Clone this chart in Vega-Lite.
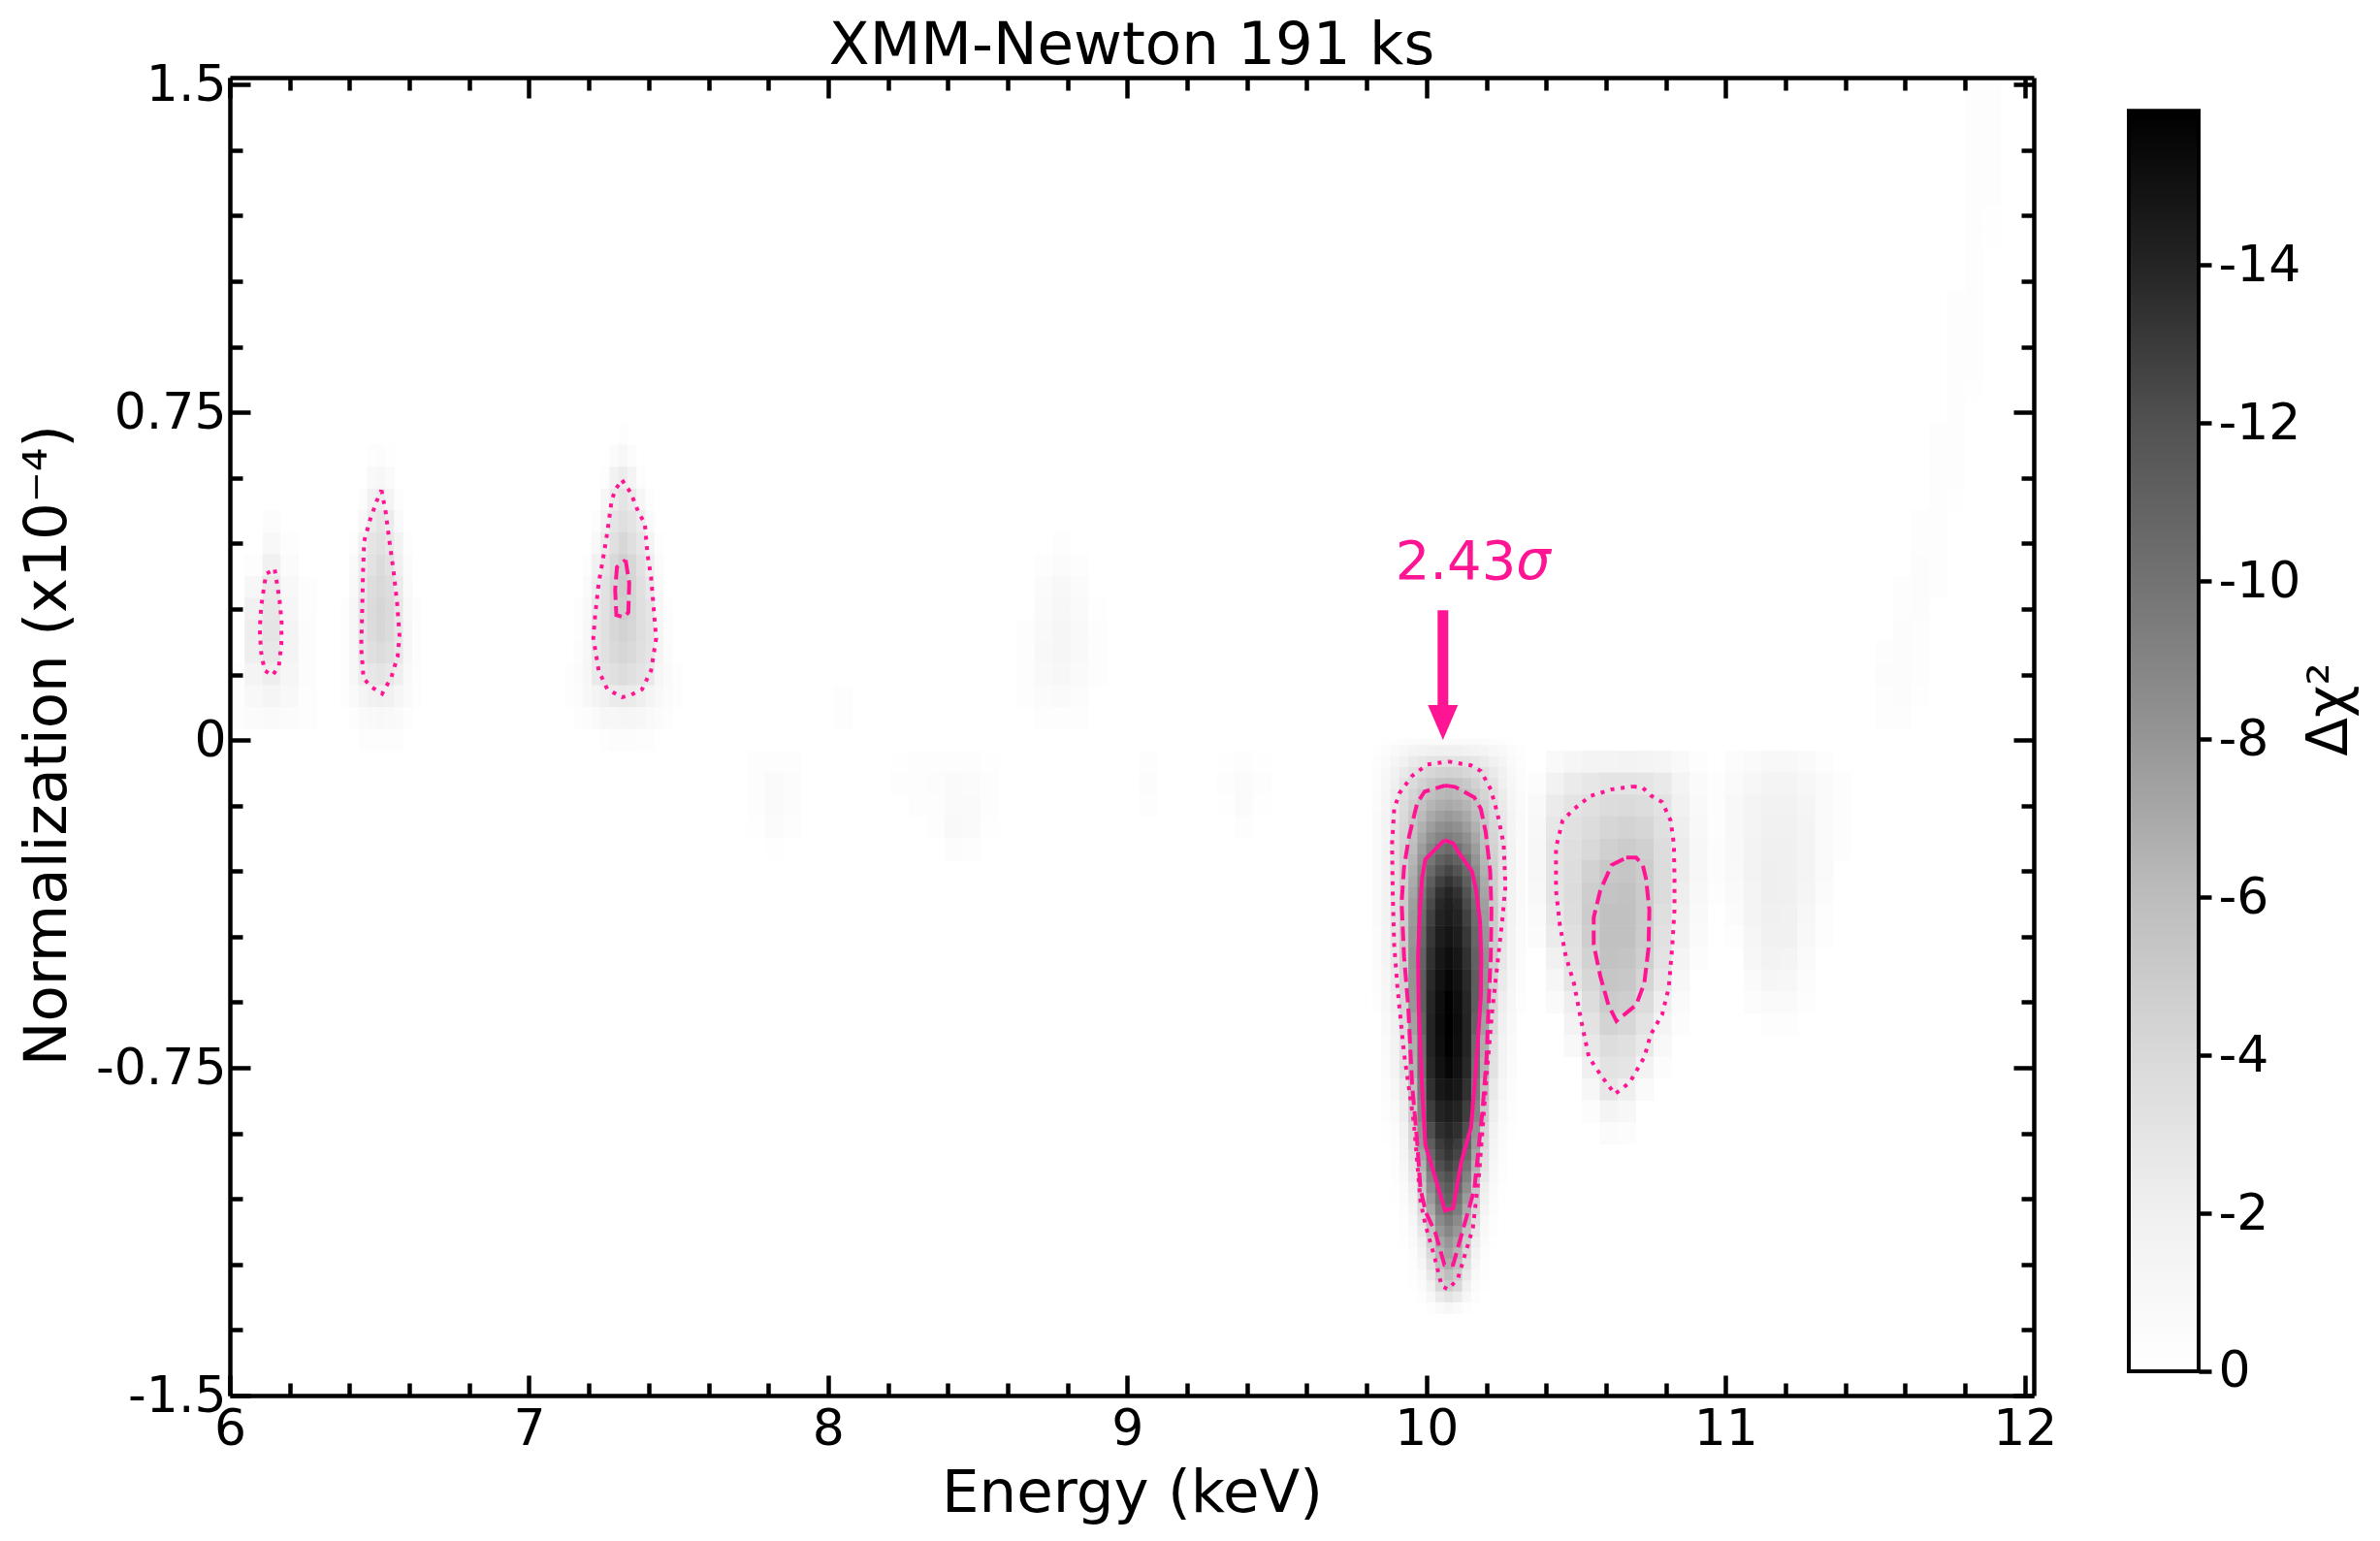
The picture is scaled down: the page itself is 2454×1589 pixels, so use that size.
{
"$schema":"https://vega.github.io/schema/vega-lite/v6.json",
"description":"XMM-Newton 191 ks line scan, delta chi-square map with contours",
"background":"white",
"padding":{"left":18,"top":17,"right":4,"bottom":4},
"spacing":72,
"config":{"view":{"stroke":null},"axis":{"grid":false,"domainColor":"black","domainWidth":4.5,"tickColor":"black","tickWidth":4.5,"labelFont":"DejaVu Sans","titleFont":"DejaVu Sans","labelFontSize":52,"titleFontSize":61,"titleFontWeight":"normal","labelColor":"black","titleColor":"black","labelFlush":false,"labelOverlap":false,"labelBound":false},"title":{"font":"DejaVu Sans","fontSize":61,"fontWeight":"normal","color":"black"}},
"datasets":{
"coarse":[
{"e":10.43,"n":-0.05,"v":-0.8},{"e":10.49,"n":-0.05,"v":-1.2},{"e":10.55,"n":-0.05,"v":-1.4},{"e":10.61,"n":-0.05,"v":-1.5},{"e":10.67,"n":-0.05,"v":-1.6},{"e":10.73,"n":-0.05,"v":-1.5},{"e":10.79,"n":-0.05,"v":-1.3},{"e":10.85,"n":-0.05,"v":-0.8},{"e":10.91,"n":-0.05,"v":-0.3},
{"e":10.37,"n":-0.1,"v":-0.4},{"e":10.43,"n":-0.1,"v":-1.7},{"e":10.49,"n":-0.1,"v":-2.4},{"e":10.55,"n":-0.1,"v":-2.8},{"e":10.61,"n":-0.1,"v":-3.0},{"e":10.67,"n":-0.1,"v":-3.0},{"e":10.73,"n":-0.1,"v":-2.9},{"e":10.79,"n":-0.1,"v":-2.6},{"e":10.85,"n":-0.1,"v":-1.5},{"e":10.91,"n":-0.1,"v":-0.6},{"e":10.97,"n":-0.1,"v":-0.2},
{"e":10.37,"n":-0.15,"v":-0.8},{"e":10.43,"n":-0.15,"v":-2.4},{"e":10.49,"n":-0.15,"v":-3.0},{"e":10.55,"n":-0.15,"v":-3.4},{"e":10.61,"n":-0.15,"v":-3.7},{"e":10.67,"n":-0.15,"v":-3.8},{"e":10.73,"n":-0.15,"v":-3.6},{"e":10.79,"n":-0.15,"v":-3.1},{"e":10.85,"n":-0.15,"v":-1.9},{"e":10.91,"n":-0.15,"v":-0.8},{"e":10.97,"n":-0.15,"v":-0.3},
{"e":10.37,"n":-0.2,"v":-0.9},{"e":10.43,"n":-0.2,"v":-2.8},{"e":10.49,"n":-0.2,"v":-3.3},{"e":10.55,"n":-0.2,"v":-3.7},{"e":10.61,"n":-0.2,"v":-4.2},{"e":10.67,"n":-0.2,"v":-4.4},{"e":10.73,"n":-0.2,"v":-4.2},{"e":10.79,"n":-0.2,"v":-3.4},{"e":10.85,"n":-0.2,"v":-2.2},{"e":10.91,"n":-0.2,"v":-0.9},{"e":10.97,"n":-0.2,"v":-0.3},
{"e":10.37,"n":-0.25,"v":-1.0},{"e":10.43,"n":-0.25,"v":-3.0},{"e":10.49,"n":-0.25,"v":-3.5},{"e":10.55,"n":-0.25,"v":-4.0},{"e":10.61,"n":-0.25,"v":-4.6},{"e":10.67,"n":-0.25,"v":-4.9},{"e":10.73,"n":-0.25,"v":-4.6},{"e":10.79,"n":-0.25,"v":-3.6},{"e":10.85,"n":-0.25,"v":-2.3},{"e":10.91,"n":-0.25,"v":-1.0},{"e":10.97,"n":-0.25,"v":-0.4},
{"e":10.37,"n":-0.3,"v":-1.0},{"e":10.43,"n":-0.3,"v":-3.0},{"e":10.49,"n":-0.3,"v":-3.6},{"e":10.55,"n":-0.3,"v":-4.5},{"e":10.61,"n":-0.3,"v":-5.2},{"e":10.67,"n":-0.3,"v":-5.3},{"e":10.73,"n":-0.3,"v":-4.9},{"e":10.79,"n":-0.3,"v":-3.7},{"e":10.85,"n":-0.3,"v":-2.3},{"e":10.91,"n":-0.3,"v":-1.0},{"e":10.97,"n":-0.3,"v":-0.4},
{"e":10.37,"n":-0.35,"v":-0.9},{"e":10.43,"n":-0.35,"v":-3.0},{"e":10.49,"n":-0.35,"v":-3.7},{"e":10.55,"n":-0.35,"v":-4.8},{"e":10.61,"n":-0.35,"v":-5.5},{"e":10.67,"n":-0.35,"v":-5.6},{"e":10.73,"n":-0.35,"v":-5.0},{"e":10.79,"n":-0.35,"v":-3.7},{"e":10.85,"n":-0.35,"v":-2.2},{"e":10.91,"n":-0.35,"v":-0.9},{"e":10.97,"n":-0.35,"v":-0.3},
{"e":10.37,"n":-0.4,"v":-0.7},{"e":10.43,"n":-0.4,"v":-2.8},{"e":10.49,"n":-0.4,"v":-3.6},{"e":10.55,"n":-0.4,"v":-4.9},{"e":10.61,"n":-0.4,"v":-5.7},{"e":10.67,"n":-0.4,"v":-5.7},{"e":10.73,"n":-0.4,"v":-5.0},{"e":10.79,"n":-0.4,"v":-3.5},{"e":10.85,"n":-0.4,"v":-2.0},{"e":10.91,"n":-0.4,"v":-0.8},
{"e":10.37,"n":-0.45,"v":-0.5},{"e":10.43,"n":-0.45,"v":-2.4},{"e":10.49,"n":-0.45,"v":-3.4},{"e":10.55,"n":-0.45,"v":-4.8},{"e":10.61,"n":-0.45,"v":-5.7},{"e":10.67,"n":-0.45,"v":-5.7},{"e":10.73,"n":-0.45,"v":-4.9},{"e":10.79,"n":-0.45,"v":-3.3},{"e":10.85,"n":-0.45,"v":-1.8},{"e":10.91,"n":-0.45,"v":-0.6},
{"e":10.43,"n":-0.5,"v":-1.8},{"e":10.49,"n":-0.5,"v":-3.2},{"e":10.55,"n":-0.5,"v":-4.5},{"e":10.61,"n":-0.5,"v":-5.6},{"e":10.67,"n":-0.5,"v":-5.5},{"e":10.73,"n":-0.5,"v":-4.7},{"e":10.79,"n":-0.5,"v":-3.1},{"e":10.85,"n":-0.5,"v":-1.4},{"e":10.91,"n":-0.5,"v":-0.4},
{"e":10.43,"n":-0.55,"v":-1.2},{"e":10.49,"n":-0.55,"v":-2.9},{"e":10.55,"n":-0.55,"v":-4.1},{"e":10.61,"n":-0.55,"v":-5.3},{"e":10.67,"n":-0.55,"v":-5.2},{"e":10.73,"n":-0.55,"v":-4.3},{"e":10.79,"n":-0.55,"v":-2.8},{"e":10.85,"n":-0.55,"v":-1.0},
{"e":10.43,"n":-0.6,"v":-0.7},{"e":10.49,"n":-0.6,"v":-2.2},{"e":10.55,"n":-0.6,"v":-3.6},{"e":10.61,"n":-0.6,"v":-5.0},{"e":10.67,"n":-0.6,"v":-4.8},{"e":10.73,"n":-0.6,"v":-3.7},{"e":10.79,"n":-0.6,"v":-2.2},{"e":10.85,"n":-0.6,"v":-0.6},
{"e":10.49,"n":-0.65,"v":-1.6},{"e":10.55,"n":-0.65,"v":-3.1},{"e":10.61,"n":-0.65,"v":-4.4},{"e":10.67,"n":-0.65,"v":-4.1},{"e":10.73,"n":-0.65,"v":-3.1},{"e":10.79,"n":-0.65,"v":-1.5},{"e":10.85,"n":-0.65,"v":-0.4},
{"e":10.49,"n":-0.7,"v":-0.9},{"e":10.55,"n":-0.7,"v":-2.7},{"e":10.61,"n":-0.7,"v":-3.6},{"e":10.67,"n":-0.7,"v":-3.4},{"e":10.73,"n":-0.7,"v":-2.6},{"e":10.79,"n":-0.7,"v":-0.9},
{"e":10.55,"n":-0.75,"v":-2.0},{"e":10.61,"n":-0.75,"v":-3.1},{"e":10.67,"n":-0.75,"v":-2.9},{"e":10.73,"n":-0.75,"v":-1.6},{"e":10.79,"n":-0.75,"v":-0.4},
{"e":10.55,"n":-0.8,"v":-1.1},{"e":10.61,"n":-0.8,"v":-2.8},{"e":10.67,"n":-0.8,"v":-2.1},{"e":10.73,"n":-0.8,"v":-0.7},
{"e":10.55,"n":-0.85,"v":-0.4},{"e":10.61,"n":-0.85,"v":-1.5},{"e":10.67,"n":-0.85,"v":-1.1},
{"e":10.61,"n":-0.9,"v":-0.5},{"e":10.67,"n":-0.9,"v":-0.4},
{"e":11.03,"n":-0.05,"v":-0.4},{"e":11.09,"n":-0.05,"v":-0.7},{"e":11.15,"n":-0.05,"v":-0.9},{"e":11.21,"n":-0.05,"v":-0.9},{"e":11.27,"n":-0.05,"v":-0.7},{"e":11.33,"n":-0.05,"v":-0.3},
{"e":11.03,"n":-0.1,"v":-0.7},{"e":11.09,"n":-0.1,"v":-1.1},{"e":11.15,"n":-0.1,"v":-1.4},{"e":11.21,"n":-0.1,"v":-1.4},{"e":11.27,"n":-0.1,"v":-1.0},{"e":11.33,"n":-0.1,"v":-0.6},{"e":11.39,"n":-0.1,"v":-0.2},
{"e":11.03,"n":-0.15,"v":-0.9},{"e":11.09,"n":-0.15,"v":-1.4},{"e":11.15,"n":-0.15,"v":-1.7},{"e":11.21,"n":-0.15,"v":-1.7},{"e":11.27,"n":-0.15,"v":-1.3},{"e":11.33,"n":-0.15,"v":-0.7},{"e":11.39,"n":-0.15,"v":-0.2},
{"e":11.03,"n":-0.2,"v":-0.9},{"e":11.09,"n":-0.2,"v":-1.5},{"e":11.15,"n":-0.2,"v":-1.9},{"e":11.21,"n":-0.2,"v":-1.9},{"e":11.27,"n":-0.2,"v":-1.4},{"e":11.33,"n":-0.2,"v":-0.7},{"e":11.39,"n":-0.2,"v":-0.2},
{"e":11.03,"n":-0.25,"v":-0.9},{"e":11.09,"n":-0.25,"v":-1.6},{"e":11.15,"n":-0.25,"v":-2.0},{"e":11.21,"n":-0.25,"v":-2.0},{"e":11.27,"n":-0.25,"v":-1.4},{"e":11.33,"n":-0.25,"v":-0.7},{"e":11.39,"n":-0.25,"v":-0.2},
{"e":11.03,"n":-0.3,"v":-0.8},{"e":11.09,"n":-0.3,"v":-1.6},{"e":11.15,"n":-0.3,"v":-2.1},{"e":11.21,"n":-0.3,"v":-2.0},{"e":11.27,"n":-0.3,"v":-1.4},{"e":11.33,"n":-0.3,"v":-0.6},
{"e":11.03,"n":-0.35,"v":-0.7},{"e":11.09,"n":-0.35,"v":-1.5},{"e":11.15,"n":-0.35,"v":-2.1},{"e":11.21,"n":-0.35,"v":-2.0},{"e":11.27,"n":-0.35,"v":-1.3},{"e":11.33,"n":-0.35,"v":-0.5},
{"e":11.03,"n":-0.4,"v":-0.5},{"e":11.09,"n":-0.4,"v":-1.4},{"e":11.15,"n":-0.4,"v":-2.0},{"e":11.21,"n":-0.4,"v":-1.9},{"e":11.27,"n":-0.4,"v":-1.1},{"e":11.33,"n":-0.4,"v":-0.3},
{"e":11.03,"n":-0.45,"v":-0.3},{"e":11.09,"n":-0.45,"v":-1.2},{"e":11.15,"n":-0.45,"v":-1.9},{"e":11.21,"n":-0.45,"v":-1.8},{"e":11.27,"n":-0.45,"v":-0.9},{"e":11.33,"n":-0.45,"v":-0.2},
{"e":11.09,"n":-0.5,"v":-1.0},{"e":11.15,"n":-0.5,"v":-1.6},{"e":11.21,"n":-0.5,"v":-1.5},{"e":11.27,"n":-0.5,"v":-0.7},
{"e":11.09,"n":-0.55,"v":-0.7},{"e":11.15,"n":-0.55,"v":-1.2},{"e":11.21,"n":-0.55,"v":-1.1},{"e":11.27,"n":-0.55,"v":-0.4},
{"e":11.09,"n":-0.6,"v":-0.4},{"e":11.15,"n":-0.6,"v":-0.7},{"e":11.21,"n":-0.6,"v":-0.6},{"e":11.27,"n":-0.6,"v":-0.2},
{"e":11.15,"n":-0.65,"v":-0.3},{"e":11.21,"n":-0.65,"v":-0.2},
{"e":6.14,"n":0.5,"v":-0.4},{"e":6.14,"n":0.45,"v":-0.9},{"e":6.2,"n":0.45,"v":-0.2},
{"e":6.08,"n":0.4,"v":-0.2},{"e":6.14,"n":0.4,"v":-1.9},{"e":6.2,"n":0.4,"v":-0.5},
{"e":6.08,"n":0.35,"v":-1.0},{"e":6.14,"n":0.35,"v":-2.6},{"e":6.2,"n":0.35,"v":-0.9},{"e":6.26,"n":0.35,"v":-0.2},
{"e":6.08,"n":0.3,"v":-1.8},{"e":6.14,"n":0.3,"v":-2.8},{"e":6.2,"n":0.3,"v":-1.2},{"e":6.26,"n":0.3,"v":-0.3},
{"e":6.08,"n":0.25,"v":-2.2},{"e":6.14,"n":0.25,"v":-2.9},{"e":6.2,"n":0.25,"v":-1.4},{"e":6.26,"n":0.25,"v":-0.4},
{"e":6.08,"n":0.2,"v":-2.1},{"e":6.14,"n":0.2,"v":-2.7},{"e":6.2,"n":0.2,"v":-1.4},{"e":6.26,"n":0.2,"v":-0.4},
{"e":6.02,"n":0.15,"v":-0.2},{"e":6.08,"n":0.15,"v":-1.5},{"e":6.14,"n":0.15,"v":-2.2},{"e":6.2,"n":0.15,"v":-1.2},{"e":6.26,"n":0.15,"v":-0.4},
{"e":6.02,"n":0.1,"v":-0.2},{"e":6.08,"n":0.1,"v":-0.9},{"e":6.14,"n":0.1,"v":-1.3},{"e":6.2,"n":0.1,"v":-0.9},{"e":6.26,"n":0.1,"v":-0.3},
{"e":6.02,"n":0.05,"v":-0.2},{"e":6.08,"n":0.05,"v":-0.5},{"e":6.14,"n":0.05,"v":-0.6},{"e":6.2,"n":0.05,"v":-0.5},{"e":6.26,"n":0.05,"v":-0.2},
{"e":8.78,"n":0.45,"v":-0.2},{"e":8.72,"n":0.4,"v":-0.2},{"e":8.78,"n":0.4,"v":-0.5},{"e":8.84,"n":0.4,"v":-0.3},
{"e":8.72,"n":0.35,"v":-0.5},{"e":8.78,"n":0.35,"v":-0.9},{"e":8.84,"n":0.35,"v":-0.5},
{"e":8.72,"n":0.3,"v":-0.7},{"e":8.78,"n":0.3,"v":-1.1},{"e":8.84,"n":0.3,"v":-0.7},{"e":8.9,"n":0.3,"v":-0.1},
{"e":8.66,"n":0.25,"v":-0.2},{"e":8.72,"n":0.25,"v":-0.8},{"e":8.78,"n":0.25,"v":-1.2},{"e":8.84,"n":0.25,"v":-0.8},{"e":8.9,"n":0.25,"v":-0.2},
{"e":8.66,"n":0.2,"v":-0.3},{"e":8.72,"n":0.2,"v":-0.9},{"e":8.78,"n":0.2,"v":-1.2},{"e":8.84,"n":0.2,"v":-0.8},{"e":8.9,"n":0.2,"v":-0.2},
{"e":8.66,"n":0.15,"v":-0.3},{"e":8.72,"n":0.15,"v":-0.8},{"e":8.78,"n":0.15,"v":-1.0},{"e":8.84,"n":0.15,"v":-0.7},{"e":8.9,"n":0.15,"v":-0.2},
{"e":8.66,"n":0.1,"v":-0.2},{"e":8.72,"n":0.1,"v":-0.5},{"e":8.78,"n":0.1,"v":-0.6},{"e":8.84,"n":0.1,"v":-0.4},
{"e":8.72,"n":0.05,"v":-0.2},{"e":8.78,"n":0.05,"v":-0.3},{"e":8.84,"n":0.05,"v":-0.2},
{"e":8.05,"n":0.1,"v":-0.3},{"e":8.05,"n":0.05,"v":-0.3},
{"e":7.76,"n":-0.05,"v":-0.2},{"e":7.82,"n":-0.05,"v":-0.3},{"e":7.88,"n":-0.05,"v":-0.2},
{"e":7.76,"n":-0.1,"v":-0.3},{"e":7.82,"n":-0.1,"v":-0.6},{"e":7.88,"n":-0.1,"v":-0.4},
{"e":7.76,"n":-0.15,"v":-0.2},{"e":7.82,"n":-0.15,"v":-0.7},{"e":7.88,"n":-0.15,"v":-0.4},
{"e":7.76,"n":-0.2,"v":-0.1},{"e":7.82,"n":-0.2,"v":-0.5},{"e":7.88,"n":-0.2,"v":-0.2},{"e":7.82,"n":-0.25,"v":-0.1},
{"e":8.24,"n":-0.05,"v":-0.1},{"e":8.3,"n":-0.05,"v":-0.2},{"e":8.36,"n":-0.05,"v":-0.2},{"e":8.42,"n":-0.05,"v":-0.3},{"e":8.48,"n":-0.05,"v":-0.3},{"e":8.54,"n":-0.05,"v":-0.1},
{"e":8.24,"n":-0.1,"v":-0.2},{"e":8.3,"n":-0.1,"v":-0.3},{"e":8.36,"n":-0.1,"v":-0.4},{"e":8.42,"n":-0.1,"v":-0.6},{"e":8.48,"n":-0.1,"v":-0.5},{"e":8.54,"n":-0.1,"v":-0.2},
{"e":8.3,"n":-0.15,"v":-0.2},{"e":8.36,"n":-0.15,"v":-0.3},{"e":8.42,"n":-0.15,"v":-0.7},{"e":8.48,"n":-0.15,"v":-0.6},{"e":8.54,"n":-0.15,"v":-0.2},
{"e":8.36,"n":-0.2,"v":-0.2},{"e":8.42,"n":-0.2,"v":-0.8},{"e":8.48,"n":-0.2,"v":-0.6},{"e":8.54,"n":-0.2,"v":-0.1},
{"e":8.42,"n":-0.25,"v":-0.4},{"e":8.48,"n":-0.25,"v":-0.3},
{"e":9.07,"n":-0.05,"v":-0.2},{"e":9.07,"n":-0.1,"v":-0.4},{"e":9.07,"n":-0.15,"v":-0.2},
{"e":9.33,"n":-0.05,"v":-0.1},{"e":9.39,"n":-0.05,"v":-0.3},{"e":9.45,"n":-0.05,"v":-0.1},
{"e":9.33,"n":-0.1,"v":-0.2},{"e":9.39,"n":-0.1,"v":-0.5},{"e":9.45,"n":-0.1,"v":-0.2},
{"e":9.33,"n":-0.15,"v":-0.1},{"e":9.39,"n":-0.15,"v":-0.5},{"e":9.45,"n":-0.15,"v":-0.1},{"e":9.39,"n":-0.2,"v":-0.3},
{"e":11.53,"n":0.05,"v":-0.2},{"e":11.59,"n":0.05,"v":-0.2},
{"e":11.53,"n":0.1,"v":-0.3},{"e":11.59,"n":0.1,"v":-0.4},{"e":11.65,"n":0.1,"v":-0.1},
{"e":11.53,"n":0.15,"v":-0.4},{"e":11.59,"n":0.15,"v":-0.4},{"e":11.65,"n":0.15,"v":-0.2},
{"e":11.53,"n":0.2,"v":-0.3},{"e":11.59,"n":0.2,"v":-0.4},{"e":11.65,"n":0.2,"v":-0.3},
{"e":11.59,"n":0.25,"v":-0.4},{"e":11.65,"n":0.25,"v":-0.3},
{"e":11.59,"n":0.3,"v":-0.3},{"e":11.65,"n":0.3,"v":-0.4},
{"e":11.59,"n":0.35,"v":-0.2},{"e":11.65,"n":0.35,"v":-0.4},{"e":11.71,"n":0.35,"v":-0.2},
{"e":11.65,"n":0.4,"v":-0.4},{"e":11.71,"n":0.4,"v":-0.3},{"e":11.65,"n":0.45,"v":-0.3},{"e":11.71,"n":0.45,"v":-0.3},
{"e":11.65,"n":0.5,"v":-0.3},{"e":11.71,"n":0.5,"v":-0.3},{"e":11.71,"n":0.55,"v":-0.3},{"e":11.77,"n":0.55,"v":-0.1},
{"e":11.71,"n":0.6,"v":-0.3},{"e":11.77,"n":0.6,"v":-0.2},{"e":11.71,"n":0.65,"v":-0.3},{"e":11.77,"n":0.65,"v":-0.2},
{"e":11.71,"n":0.7,"v":-0.2},{"e":11.77,"n":0.7,"v":-0.3},{"e":11.77,"n":0.75,"v":-0.3},{"e":11.77,"n":0.8,"v":-0.3},{"e":11.83,"n":0.8,"v":-0.1},
{"e":11.77,"n":0.85,"v":-0.3},{"e":11.83,"n":0.85,"v":-0.2},{"e":11.77,"n":0.9,"v":-0.3},{"e":11.83,"n":0.9,"v":-0.2},
{"e":11.77,"n":0.95,"v":-0.2},{"e":11.83,"n":0.95,"v":-0.3},{"e":11.77,"n":1.0,"v":-0.2},{"e":11.83,"n":1.0,"v":-0.3},
{"e":11.83,"n":1.05,"v":-0.3},{"e":11.83,"n":1.1,"v":-0.3},{"e":11.83,"n":1.15,"v":-0.3},{"e":11.89,"n":1.15,"v":-0.1},
{"e":11.83,"n":1.2,"v":-0.3},{"e":11.89,"n":1.2,"v":-0.1},{"e":11.83,"n":1.25,"v":-0.2},{"e":11.89,"n":1.25,"v":-0.2},
{"e":11.83,"n":1.3,"v":-0.2},{"e":11.89,"n":1.3,"v":-0.2},{"e":11.83,"n":1.35,"v":-0.2},{"e":11.89,"n":1.35,"v":-0.2},
{"e":11.83,"n":1.4,"v":-0.2},{"e":11.89,"n":1.4,"v":-0.2},{"e":11.83,"n":1.45,"v":-0.2},{"e":11.89,"n":1.45,"v":-0.2},
{"e":11.83,"n":1.5,"v":-0.2},{"e":11.89,"n":1.5,"v":-0.2}
],
"steep":[
{"e":9.865,"n":-0.01,"v":-0.1},{"e":9.895,"n":-0.01,"v":-0.3},{"e":9.925,"n":-0.01,"v":-0.4},{"e":9.955,"n":-0.01,"v":-0.5},{"e":9.985,"n":-0.01,"v":-0.6},{"e":10.015,"n":-0.01,"v":-0.6},{"e":10.045,"n":-0.01,"v":-0.7},{"e":10.075,"n":-0.01,"v":-0.7},{"e":10.105,"n":-0.01,"v":-0.7},{"e":10.135,"n":-0.01,"v":-0.6},{"e":10.165,"n":-0.01,"v":-0.6},{"e":10.195,"n":-0.01,"v":-0.5},{"e":10.225,"n":-0.01,"v":-0.4},{"e":10.255,"n":-0.01,"v":-0.3},{"e":10.285,"n":-0.01,"v":-0.1},
{"e":9.835,"n":-0.025,"v":-0.1},{"e":9.865,"n":-0.025,"v":-0.4},{"e":9.895,"n":-0.025,"v":-0.8},{"e":9.925,"n":-0.025,"v":-1.1},{"e":9.955,"n":-0.025,"v":-1.4},{"e":9.985,"n":-0.025,"v":-1.6},{"e":10.015,"n":-0.025,"v":-1.7},{"e":10.045,"n":-0.025,"v":-1.8},{"e":10.075,"n":-0.025,"v":-1.8},{"e":10.105,"n":-0.025,"v":-1.8},{"e":10.135,"n":-0.025,"v":-1.7},{"e":10.165,"n":-0.025,"v":-1.6},{"e":10.195,"n":-0.025,"v":-1.4},{"e":10.225,"n":-0.025,"v":-1.1},{"e":10.255,"n":-0.025,"v":-0.8},{"e":10.285,"n":-0.025,"v":-0.4},{"e":10.315,"n":-0.025,"v":-0.1},
{"e":9.835,"n":-0.05,"v":-0.3},{"e":9.865,"n":-0.05,"v":-0.7},{"e":9.895,"n":-0.05,"v":-1.3},{"e":9.925,"n":-0.05,"v":-1.9},{"e":9.955,"n":-0.05,"v":-2.4},{"e":9.985,"n":-0.05,"v":-2.8},{"e":10.015,"n":-0.05,"v":-3.0},{"e":10.045,"n":-0.05,"v":-3.1},{"e":10.075,"n":-0.05,"v":-3.2},{"e":10.105,"n":-0.05,"v":-3.1},{"e":10.135,"n":-0.05,"v":-3.0},{"e":10.165,"n":-0.05,"v":-2.8},{"e":10.195,"n":-0.05,"v":-2.4},{"e":10.225,"n":-0.05,"v":-1.9},{"e":10.255,"n":-0.05,"v":-1.3},{"e":10.285,"n":-0.05,"v":-0.7},{"e":10.315,"n":-0.05,"v":-0.3},
{"e":9.835,"n":-0.075,"v":-0.4},{"e":9.865,"n":-0.075,"v":-0.9},{"e":9.895,"n":-0.075,"v":-1.7},{"e":9.925,"n":-0.075,"v":-2.5},{"e":9.955,"n":-0.075,"v":-3.2},{"e":9.985,"n":-0.075,"v":-3.7},{"e":10.015,"n":-0.075,"v":-4.1},{"e":10.045,"n":-0.075,"v":-4.4},{"e":10.075,"n":-0.075,"v":-4.5},{"e":10.105,"n":-0.075,"v":-4.4},{"e":10.135,"n":-0.075,"v":-4.1},{"e":10.165,"n":-0.075,"v":-3.7},{"e":10.195,"n":-0.075,"v":-3.2},{"e":10.225,"n":-0.075,"v":-2.5},{"e":10.255,"n":-0.075,"v":-1.7},{"e":10.285,"n":-0.075,"v":-0.9},{"e":10.315,"n":-0.075,"v":-0.4},
{"e":9.835,"n":-0.1,"v":-0.4},{"e":9.865,"n":-0.1,"v":-1.1},{"e":9.895,"n":-0.1,"v":-2.0},{"e":9.925,"n":-0.1,"v":-3.0},{"e":9.955,"n":-0.1,"v":-3.8},{"e":9.985,"n":-0.1,"v":-4.5},{"e":10.015,"n":-0.1,"v":-5.1},{"e":10.045,"n":-0.1,"v":-5.5},{"e":10.075,"n":-0.1,"v":-5.6},{"e":10.105,"n":-0.1,"v":-5.5},{"e":10.135,"n":-0.1,"v":-5.1},{"e":10.165,"n":-0.1,"v":-4.5},{"e":10.195,"n":-0.1,"v":-3.8},{"e":10.225,"n":-0.1,"v":-3.0},{"e":10.255,"n":-0.1,"v":-2.0},{"e":10.285,"n":-0.1,"v":-1.1},{"e":10.315,"n":-0.1,"v":-0.4},
{"e":9.835,"n":-0.125,"v":-0.5},{"e":9.865,"n":-0.125,"v":-1.2},{"e":9.895,"n":-0.125,"v":-2.3},{"e":9.925,"n":-0.125,"v":-3.4},{"e":9.955,"n":-0.125,"v":-4.3},{"e":9.985,"n":-0.125,"v":-5.1},{"e":10.015,"n":-0.125,"v":-5.8},{"e":10.045,"n":-0.125,"v":-6.2},{"e":10.075,"n":-0.125,"v":-6.4},{"e":10.105,"n":-0.125,"v":-6.2},{"e":10.135,"n":-0.125,"v":-5.8},{"e":10.165,"n":-0.125,"v":-5.1},{"e":10.195,"n":-0.125,"v":-4.3},{"e":10.225,"n":-0.125,"v":-3.4},{"e":10.255,"n":-0.125,"v":-2.3},{"e":10.285,"n":-0.125,"v":-1.2},{"e":10.315,"n":-0.125,"v":-0.5},
{"e":9.835,"n":-0.15,"v":-0.5},{"e":9.865,"n":-0.15,"v":-1.3},{"e":9.895,"n":-0.15,"v":-2.5},{"e":9.925,"n":-0.15,"v":-3.7},{"e":9.955,"n":-0.15,"v":-4.7},{"e":9.985,"n":-0.15,"v":-5.6},{"e":10.015,"n":-0.15,"v":-6.4},{"e":10.045,"n":-0.15,"v":-6.8},{"e":10.075,"n":-0.15,"v":-7.0},{"e":10.105,"n":-0.15,"v":-6.8},{"e":10.135,"n":-0.15,"v":-6.4},{"e":10.165,"n":-0.15,"v":-5.6},{"e":10.195,"n":-0.15,"v":-4.7},{"e":10.225,"n":-0.15,"v":-3.7},{"e":10.255,"n":-0.15,"v":-2.5},{"e":10.285,"n":-0.15,"v":-1.3},{"e":10.315,"n":-0.15,"v":-0.5},
{"e":9.835,"n":-0.175,"v":-0.6},{"e":9.865,"n":-0.175,"v":-1.4},{"e":9.895,"n":-0.175,"v":-2.7},{"e":9.925,"n":-0.175,"v":-3.9},{"e":9.955,"n":-0.175,"v":-5.1},{"e":9.985,"n":-0.175,"v":-6.1},{"e":10.015,"n":-0.175,"v":-7.0},{"e":10.045,"n":-0.175,"v":-7.5},{"e":10.075,"n":-0.175,"v":-7.8},{"e":10.105,"n":-0.175,"v":-7.5},{"e":10.135,"n":-0.175,"v":-7.0},{"e":10.165,"n":-0.175,"v":-6.1},{"e":10.195,"n":-0.175,"v":-5.1},{"e":10.225,"n":-0.175,"v":-3.9},{"e":10.255,"n":-0.175,"v":-2.7},{"e":10.285,"n":-0.175,"v":-1.4},{"e":10.315,"n":-0.175,"v":-0.6},
{"e":9.835,"n":-0.2,"v":-0.6},{"e":9.865,"n":-0.2,"v":-1.5},{"e":9.895,"n":-0.2,"v":-2.9},{"e":9.925,"n":-0.2,"v":-4.1},{"e":9.955,"n":-0.2,"v":-5.4},{"e":9.985,"n":-0.2,"v":-6.6},{"e":10.015,"n":-0.2,"v":-7.6},{"e":10.045,"n":-0.2,"v":-8.3},{"e":10.075,"n":-0.2,"v":-8.6},{"e":10.105,"n":-0.2,"v":-8.3},{"e":10.135,"n":-0.2,"v":-7.6},{"e":10.165,"n":-0.2,"v":-6.6},{"e":10.195,"n":-0.2,"v":-5.4},{"e":10.225,"n":-0.2,"v":-4.1},{"e":10.255,"n":-0.2,"v":-2.9},{"e":10.285,"n":-0.2,"v":-1.5},{"e":10.315,"n":-0.2,"v":-0.6},
{"e":9.835,"n":-0.225,"v":-0.6},{"e":9.865,"n":-0.225,"v":-1.5},{"e":9.895,"n":-0.225,"v":-3.0},{"e":9.925,"n":-0.225,"v":-4.3},{"e":9.955,"n":-0.225,"v":-5.7},{"e":9.985,"n":-0.225,"v":-7.1},{"e":10.015,"n":-0.225,"v":-8.3},{"e":10.045,"n":-0.225,"v":-9.0},{"e":10.075,"n":-0.225,"v":-9.4},{"e":10.105,"n":-0.225,"v":-9.0},{"e":10.135,"n":-0.225,"v":-8.3},{"e":10.165,"n":-0.225,"v":-7.1},{"e":10.195,"n":-0.225,"v":-5.7},{"e":10.225,"n":-0.225,"v":-4.3},{"e":10.255,"n":-0.225,"v":-3.0},{"e":10.285,"n":-0.225,"v":-1.5},{"e":10.315,"n":-0.225,"v":-0.6},
{"e":9.835,"n":-0.25,"v":-0.6},{"e":9.865,"n":-0.25,"v":-1.6},{"e":9.895,"n":-0.25,"v":-3.1},{"e":9.925,"n":-0.25,"v":-4.5},{"e":9.955,"n":-0.25,"v":-6.0},{"e":9.985,"n":-0.25,"v":-7.6},{"e":10.015,"n":-0.25,"v":-9.0},{"e":10.045,"n":-0.25,"v":-10.0},{"e":10.075,"n":-0.25,"v":-10.5},{"e":10.105,"n":-0.25,"v":-10.0},{"e":10.135,"n":-0.25,"v":-9.0},{"e":10.165,"n":-0.25,"v":-7.6},{"e":10.195,"n":-0.25,"v":-6.0},{"e":10.225,"n":-0.25,"v":-4.5},{"e":10.255,"n":-0.25,"v":-3.1},{"e":10.285,"n":-0.25,"v":-1.6},{"e":10.315,"n":-0.25,"v":-0.6},
{"e":9.835,"n":-0.275,"v":-0.6},{"e":9.865,"n":-0.275,"v":-1.6},{"e":9.895,"n":-0.275,"v":-3.1},{"e":9.925,"n":-0.275,"v":-4.6},{"e":9.955,"n":-0.275,"v":-6.3},{"e":9.985,"n":-0.275,"v":-8.1},{"e":10.015,"n":-0.275,"v":-9.8},{"e":10.045,"n":-0.275,"v":-11.0},{"e":10.075,"n":-0.275,"v":-11.6},{"e":10.105,"n":-0.275,"v":-11.0},{"e":10.135,"n":-0.275,"v":-9.8},{"e":10.165,"n":-0.275,"v":-8.1},{"e":10.195,"n":-0.275,"v":-6.3},{"e":10.225,"n":-0.275,"v":-4.6},{"e":10.255,"n":-0.275,"v":-3.1},{"e":10.285,"n":-0.275,"v":-1.6},{"e":10.315,"n":-0.275,"v":-0.6},
{"e":9.835,"n":-0.3,"v":-0.6},{"e":9.865,"n":-0.3,"v":-1.6},{"e":9.895,"n":-0.3,"v":-3.1},{"e":9.925,"n":-0.3,"v":-4.7},{"e":9.955,"n":-0.3,"v":-6.6},{"e":9.985,"n":-0.3,"v":-8.6},{"e":10.015,"n":-0.3,"v":-10.5},{"e":10.045,"n":-0.3,"v":-11.9},{"e":10.075,"n":-0.3,"v":-12.5},{"e":10.105,"n":-0.3,"v":-11.9},{"e":10.135,"n":-0.3,"v":-10.5},{"e":10.165,"n":-0.3,"v":-8.6},{"e":10.195,"n":-0.3,"v":-6.6},{"e":10.225,"n":-0.3,"v":-4.7},{"e":10.255,"n":-0.3,"v":-3.1},{"e":10.285,"n":-0.3,"v":-1.6},{"e":10.315,"n":-0.3,"v":-0.6},
{"e":9.835,"n":-0.325,"v":-0.6},{"e":9.865,"n":-0.325,"v":-1.6},{"e":9.895,"n":-0.325,"v":-3.1},{"e":9.925,"n":-0.325,"v":-4.8},{"e":9.955,"n":-0.325,"v":-6.9},{"e":9.985,"n":-0.325,"v":-9.1},{"e":10.015,"n":-0.325,"v":-11.2},{"e":10.045,"n":-0.325,"v":-12.7},{"e":10.075,"n":-0.325,"v":-13.3},{"e":10.105,"n":-0.325,"v":-12.7},{"e":10.135,"n":-0.325,"v":-11.2},{"e":10.165,"n":-0.325,"v":-9.1},{"e":10.195,"n":-0.325,"v":-6.9},{"e":10.225,"n":-0.325,"v":-4.8},{"e":10.255,"n":-0.325,"v":-3.1},{"e":10.285,"n":-0.325,"v":-1.6},{"e":10.315,"n":-0.325,"v":-0.6},
{"e":9.835,"n":-0.35,"v":-0.6},{"e":9.865,"n":-0.35,"v":-1.6},{"e":9.895,"n":-0.35,"v":-3.1},{"e":9.925,"n":-0.35,"v":-4.9},{"e":9.955,"n":-0.35,"v":-7.2},{"e":9.985,"n":-0.35,"v":-9.6},{"e":10.015,"n":-0.35,"v":-11.9},{"e":10.045,"n":-0.35,"v":-13.4},{"e":10.075,"n":-0.35,"v":-14.0},{"e":10.105,"n":-0.35,"v":-13.4},{"e":10.135,"n":-0.35,"v":-11.9},{"e":10.165,"n":-0.35,"v":-9.6},{"e":10.195,"n":-0.35,"v":-7.2},{"e":10.225,"n":-0.35,"v":-4.9},{"e":10.255,"n":-0.35,"v":-3.1},{"e":10.285,"n":-0.35,"v":-1.6},{"e":10.315,"n":-0.35,"v":-0.6},
{"e":9.835,"n":-0.375,"v":-0.6},{"e":9.865,"n":-0.375,"v":-1.6},{"e":9.895,"n":-0.375,"v":-3.1},{"e":9.925,"n":-0.375,"v":-5.0},{"e":9.955,"n":-0.375,"v":-7.5},{"e":9.985,"n":-0.375,"v":-10.0},{"e":10.015,"n":-0.375,"v":-12.3},{"e":10.045,"n":-0.375,"v":-13.8},{"e":10.075,"n":-0.375,"v":-14.4},{"e":10.105,"n":-0.375,"v":-13.8},{"e":10.135,"n":-0.375,"v":-12.3},{"e":10.165,"n":-0.375,"v":-10.0},{"e":10.195,"n":-0.375,"v":-7.5},{"e":10.225,"n":-0.375,"v":-5.0},{"e":10.255,"n":-0.375,"v":-3.1},{"e":10.285,"n":-0.375,"v":-1.6},{"e":10.315,"n":-0.375,"v":-0.6},
{"e":9.895,"n":-0.925,"v":-0.4},{"e":9.925,"n":-0.925,"v":-1.5},{"e":9.955,"n":-0.925,"v":-3.9},{"e":9.985,"n":-0.925,"v":-7.8},{"e":10.015,"n":-0.925,"v":-11.2},{"e":10.045,"n":-0.925,"v":-12.9},{"e":10.075,"n":-0.925,"v":-13.5},{"e":10.105,"n":-0.925,"v":-12.9},{"e":10.135,"n":-0.925,"v":-11.2},{"e":10.165,"n":-0.925,"v":-7.8},{"e":10.195,"n":-0.925,"v":-3.9},{"e":10.225,"n":-0.925,"v":-1.5},{"e":10.255,"n":-0.925,"v":-0.4},
{"e":9.895,"n":-0.95,"v":-0.3},{"e":9.925,"n":-0.95,"v":-1.3},{"e":9.955,"n":-0.95,"v":-3.4},{"e":9.985,"n":-0.95,"v":-7.2},{"e":10.015,"n":-0.95,"v":-10.6},{"e":10.045,"n":-0.95,"v":-12.5},{"e":10.075,"n":-0.95,"v":-13.2},{"e":10.105,"n":-0.95,"v":-12.5},{"e":10.135,"n":-0.95,"v":-10.6},{"e":10.165,"n":-0.95,"v":-7.2},{"e":10.195,"n":-0.95,"v":-3.4},{"e":10.225,"n":-0.95,"v":-1.3},{"e":10.255,"n":-0.95,"v":-0.3},
{"e":9.895,"n":-0.975,"v":-0.3},{"e":9.925,"n":-0.975,"v":-1.1},{"e":9.955,"n":-0.975,"v":-3.0},{"e":9.985,"n":-0.975,"v":-6.6},{"e":10.015,"n":-0.975,"v":-9.9},{"e":10.045,"n":-0.975,"v":-12.0},{"e":10.075,"n":-0.975,"v":-12.7},{"e":10.105,"n":-0.975,"v":-12.0},{"e":10.135,"n":-0.975,"v":-9.9},{"e":10.165,"n":-0.975,"v":-6.6},{"e":10.195,"n":-0.975,"v":-3.0},{"e":10.225,"n":-0.975,"v":-1.1},{"e":10.255,"n":-0.975,"v":-0.3},
{"e":9.895,"n":-1.0,"v":-0.2},{"e":9.925,"n":-1.0,"v":-0.9},{"e":9.955,"n":-1.0,"v":-2.6},{"e":9.985,"n":-1.0,"v":-5.9},{"e":10.015,"n":-1.0,"v":-9.1},{"e":10.045,"n":-1.0,"v":-11.3},{"e":10.075,"n":-1.0,"v":-12.0},{"e":10.105,"n":-1.0,"v":-11.3},{"e":10.135,"n":-1.0,"v":-9.1},{"e":10.165,"n":-1.0,"v":-5.9},{"e":10.195,"n":-1.0,"v":-2.6},{"e":10.225,"n":-1.0,"v":-0.9},{"e":10.255,"n":-1.0,"v":-0.2},
{"e":9.895,"n":-1.025,"v":-0.1},{"e":9.925,"n":-1.025,"v":-0.7},{"e":9.955,"n":-1.025,"v":-2.2},{"e":9.985,"n":-1.025,"v":-5.2},{"e":10.015,"n":-1.025,"v":-8.4},{"e":10.045,"n":-1.025,"v":-10.6},{"e":10.075,"n":-1.025,"v":-11.4},{"e":10.105,"n":-1.025,"v":-10.6},{"e":10.135,"n":-1.025,"v":-8.4},{"e":10.165,"n":-1.025,"v":-5.2},{"e":10.195,"n":-1.025,"v":-2.2},{"e":10.225,"n":-1.025,"v":-0.7},{"e":10.255,"n":-1.025,"v":-0.1},
{"e":9.895,"n":-1.05,"v":-0.1},{"e":9.925,"n":-1.05,"v":-0.5},{"e":9.955,"n":-1.05,"v":-1.8},{"e":9.985,"n":-1.05,"v":-4.6},{"e":10.015,"n":-1.05,"v":-7.7},{"e":10.045,"n":-1.05,"v":-10.0},{"e":10.075,"n":-1.05,"v":-10.9},{"e":10.105,"n":-1.05,"v":-10.0},{"e":10.135,"n":-1.05,"v":-7.7},{"e":10.165,"n":-1.05,"v":-4.6},{"e":10.195,"n":-1.05,"v":-1.8},{"e":10.225,"n":-1.05,"v":-0.5},{"e":10.255,"n":-1.05,"v":-0.1},
{"e":9.925,"n":-1.075,"v":-0.4},{"e":9.955,"n":-1.075,"v":-1.4},{"e":9.985,"n":-1.075,"v":-4.0},{"e":10.015,"n":-1.075,"v":-7.0},{"e":10.045,"n":-1.075,"v":-9.4},{"e":10.075,"n":-1.075,"v":-10.3},{"e":10.105,"n":-1.075,"v":-9.4},{"e":10.135,"n":-1.075,"v":-7.0},{"e":10.165,"n":-1.075,"v":-4.0},{"e":10.195,"n":-1.075,"v":-1.4},{"e":10.225,"n":-1.075,"v":-0.4},
{"e":9.925,"n":-1.1,"v":-0.3},{"e":9.955,"n":-1.1,"v":-1.1},{"e":9.985,"n":-1.1,"v":-3.3},{"e":10.015,"n":-1.1,"v":-6.2},{"e":10.045,"n":-1.1,"v":-8.6},{"e":10.075,"n":-1.1,"v":-9.5},{"e":10.105,"n":-1.1,"v":-8.6},{"e":10.135,"n":-1.1,"v":-6.2},{"e":10.165,"n":-1.1,"v":-3.3},{"e":10.195,"n":-1.1,"v":-1.1},{"e":10.225,"n":-1.1,"v":-0.3},
{"e":9.925,"n":-1.125,"v":-0.2},{"e":9.955,"n":-1.125,"v":-0.8},{"e":9.985,"n":-1.125,"v":-2.7},{"e":10.015,"n":-1.125,"v":-5.5},{"e":10.045,"n":-1.125,"v":-7.9},{"e":10.075,"n":-1.125,"v":-8.8},{"e":10.105,"n":-1.125,"v":-7.9},{"e":10.135,"n":-1.125,"v":-5.5},{"e":10.165,"n":-1.125,"v":-2.7},{"e":10.195,"n":-1.125,"v":-0.8},{"e":10.225,"n":-1.125,"v":-0.2},
{"e":9.925,"n":-1.15,"v":-0.1},{"e":9.955,"n":-1.15,"v":-0.6},{"e":9.985,"n":-1.15,"v":-2.1},{"e":10.015,"n":-1.15,"v":-4.7},{"e":10.045,"n":-1.15,"v":-7.1},{"e":10.075,"n":-1.15,"v":-8.0},{"e":10.105,"n":-1.15,"v":-7.1},{"e":10.135,"n":-1.15,"v":-4.7},{"e":10.165,"n":-1.15,"v":-2.1},{"e":10.195,"n":-1.15,"v":-0.6},{"e":10.225,"n":-1.15,"v":-0.1},
{"e":9.955,"n":-1.175,"v":-0.4},{"e":9.985,"n":-1.175,"v":-1.6},{"e":10.015,"n":-1.175,"v":-4.0},{"e":10.045,"n":-1.175,"v":-6.4},{"e":10.075,"n":-1.175,"v":-7.4},{"e":10.105,"n":-1.175,"v":-6.4},{"e":10.135,"n":-1.175,"v":-4.0},{"e":10.165,"n":-1.175,"v":-1.6},{"e":10.195,"n":-1.175,"v":-0.4},
{"e":9.955,"n":-1.2,"v":-0.3},{"e":9.985,"n":-1.2,"v":-1.2},{"e":10.015,"n":-1.2,"v":-3.3},{"e":10.045,"n":-1.2,"v":-5.8},{"e":10.075,"n":-1.2,"v":-6.8},{"e":10.105,"n":-1.2,"v":-5.8},{"e":10.135,"n":-1.2,"v":-3.3},{"e":10.165,"n":-1.2,"v":-1.2},{"e":10.195,"n":-1.2,"v":-0.3},
{"e":9.955,"n":-1.225,"v":-0.2},{"e":9.985,"n":-1.225,"v":-0.8},{"e":10.015,"n":-1.225,"v":-2.6},{"e":10.045,"n":-1.225,"v":-4.9},{"e":10.075,"n":-1.225,"v":-5.9},{"e":10.105,"n":-1.225,"v":-4.9},{"e":10.135,"n":-1.225,"v":-2.6},{"e":10.165,"n":-1.225,"v":-0.8},{"e":10.195,"n":-1.225,"v":-0.2},
{"e":9.955,"n":-1.25,"v":-0.1},{"e":9.985,"n":-1.25,"v":-0.5},{"e":10.015,"n":-1.25,"v":-1.9},{"e":10.045,"n":-1.25,"v":-4.0},{"e":10.075,"n":-1.25,"v":-5.0},{"e":10.105,"n":-1.25,"v":-4.0},{"e":10.135,"n":-1.25,"v":-1.9},{"e":10.165,"n":-1.25,"v":-0.5},{"e":10.195,"n":-1.25,"v":-0.1},
{"e":9.985,"n":-1.275,"v":-0.2},{"e":10.015,"n":-1.275,"v":-1.0},{"e":10.045,"n":-1.275,"v":-2.4},{"e":10.075,"n":-1.275,"v":-3.0},{"e":10.105,"n":-1.275,"v":-2.4},{"e":10.135,"n":-1.275,"v":-1.0},{"e":10.165,"n":-1.275,"v":-0.2},
{"e":10.015,"n":-1.3,"v":-0.3},{"e":10.045,"n":-1.3,"v":-0.7},{"e":10.075,"n":-1.3,"v":-1.0},{"e":10.105,"n":-1.3,"v":-0.7},{"e":10.135,"n":-1.3,"v":-0.3}
],
"fine":[
{"e":9.835,"n":-0.4,"v":-0.6},{"e":9.865,"n":-0.4,"v":-1.6},{"e":9.895,"n":-0.4,"v":-3.1},{"e":9.925,"n":-0.4,"v":-5.0},{"e":9.955,"n":-0.4,"v":-7.7},{"e":9.985,"n":-0.4,"v":-10.3},{"e":10.015,"n":-0.4,"v":-12.7},{"e":10.045,"n":-0.4,"v":-14.1},{"e":10.075,"n":-0.4,"v":-14.6},{"e":10.105,"n":-0.4,"v":-14.1},{"e":10.135,"n":-0.4,"v":-12.7},{"e":10.165,"n":-0.4,"v":-10.3},{"e":10.195,"n":-0.4,"v":-7.7},{"e":10.225,"n":-0.4,"v":-5.0},{"e":10.255,"n":-0.4,"v":-3.1},{"e":10.285,"n":-0.4,"v":-1.6},{"e":10.315,"n":-0.4,"v":-0.6},
{"e":9.835,"n":-0.45,"v":-0.5},{"e":9.865,"n":-0.45,"v":-1.5},{"e":9.895,"n":-0.45,"v":-3.0},{"e":9.925,"n":-0.45,"v":-5.0},{"e":9.955,"n":-0.45,"v":-8.0},{"e":9.985,"n":-0.45,"v":-10.7},{"e":10.015,"n":-0.45,"v":-13.1},{"e":10.045,"n":-0.45,"v":-14.5},{"e":10.075,"n":-0.45,"v":-15.0},{"e":10.105,"n":-0.45,"v":-14.5},{"e":10.135,"n":-0.45,"v":-13.1},{"e":10.165,"n":-0.45,"v":-10.7},{"e":10.195,"n":-0.45,"v":-8.0},{"e":10.225,"n":-0.45,"v":-5.0},{"e":10.255,"n":-0.45,"v":-3.0},{"e":10.285,"n":-0.45,"v":-1.5},{"e":10.315,"n":-0.45,"v":-0.5},
{"e":9.835,"n":-0.5,"v":-0.5},{"e":9.865,"n":-0.5,"v":-1.4},{"e":9.895,"n":-0.5,"v":-2.8},{"e":9.925,"n":-0.5,"v":-4.8},{"e":9.955,"n":-0.5,"v":-8.2},{"e":9.985,"n":-0.5,"v":-11.0},{"e":10.015,"n":-0.5,"v":-13.4},{"e":10.045,"n":-0.5,"v":-14.9},{"e":10.075,"n":-0.5,"v":-15.4},{"e":10.105,"n":-0.5,"v":-14.9},{"e":10.135,"n":-0.5,"v":-13.4},{"e":10.165,"n":-0.5,"v":-11.0},{"e":10.195,"n":-0.5,"v":-8.2},{"e":10.225,"n":-0.5,"v":-4.8},{"e":10.255,"n":-0.5,"v":-2.8},{"e":10.285,"n":-0.5,"v":-1.4},{"e":10.315,"n":-0.5,"v":-0.5},
{"e":9.835,"n":-0.55,"v":-0.4},{"e":9.865,"n":-0.55,"v":-1.2},{"e":9.895,"n":-0.55,"v":-2.5},{"e":9.925,"n":-0.55,"v":-4.5},{"e":9.955,"n":-0.55,"v":-8.1},{"e":9.985,"n":-0.55,"v":-11.2},{"e":10.015,"n":-0.55,"v":-13.7},{"e":10.045,"n":-0.55,"v":-15.2},{"e":10.075,"n":-0.55,"v":-15.7},{"e":10.105,"n":-0.55,"v":-15.2},{"e":10.135,"n":-0.55,"v":-13.7},{"e":10.165,"n":-0.55,"v":-11.2},{"e":10.195,"n":-0.55,"v":-8.1},{"e":10.225,"n":-0.55,"v":-4.5},{"e":10.255,"n":-0.55,"v":-2.5},{"e":10.285,"n":-0.55,"v":-1.2},{"e":10.315,"n":-0.55,"v":-0.4},
{"e":9.835,"n":-0.6,"v":-0.3},{"e":9.865,"n":-0.6,"v":-1.0},{"e":9.895,"n":-0.6,"v":-2.2},{"e":9.925,"n":-0.6,"v":-4.2},{"e":9.955,"n":-0.6,"v":-8.0},{"e":9.985,"n":-0.6,"v":-11.2},{"e":10.015,"n":-0.6,"v":-13.9},{"e":10.045,"n":-0.6,"v":-15.4},{"e":10.075,"n":-0.6,"v":-15.9},{"e":10.105,"n":-0.6,"v":-15.4},{"e":10.135,"n":-0.6,"v":-13.9},{"e":10.165,"n":-0.6,"v":-11.2},{"e":10.195,"n":-0.6,"v":-8.0},{"e":10.225,"n":-0.6,"v":-4.2},{"e":10.255,"n":-0.6,"v":-2.2},{"e":10.285,"n":-0.6,"v":-1.0},{"e":10.315,"n":-0.6,"v":-0.3},
{"e":9.865,"n":-0.65,"v":-0.8},{"e":9.895,"n":-0.65,"v":-1.9},{"e":9.925,"n":-0.65,"v":-3.8},{"e":9.955,"n":-0.65,"v":-7.4},{"e":9.985,"n":-0.65,"v":-10.9},{"e":10.015,"n":-0.65,"v":-14.0},{"e":10.045,"n":-0.65,"v":-15.5},{"e":10.075,"n":-0.65,"v":-15.95},{"e":10.105,"n":-0.65,"v":-15.5},{"e":10.135,"n":-0.65,"v":-14.0},{"e":10.165,"n":-0.65,"v":-10.9},{"e":10.195,"n":-0.65,"v":-7.4},{"e":10.225,"n":-0.65,"v":-3.8},{"e":10.255,"n":-0.65,"v":-1.9},{"e":10.285,"n":-0.65,"v":-0.8},
{"e":9.865,"n":-0.7,"v":-0.6},{"e":9.895,"n":-0.7,"v":-1.6},{"e":9.925,"n":-0.7,"v":-3.4},{"e":9.955,"n":-0.7,"v":-6.8},{"e":9.985,"n":-0.7,"v":-10.4},{"e":10.015,"n":-0.7,"v":-14.0},{"e":10.045,"n":-0.7,"v":-15.4},{"e":10.075,"n":-0.7,"v":-15.9},{"e":10.105,"n":-0.7,"v":-15.4},{"e":10.135,"n":-0.7,"v":-14.0},{"e":10.165,"n":-0.7,"v":-10.4},{"e":10.195,"n":-0.7,"v":-6.8},{"e":10.225,"n":-0.7,"v":-3.4},{"e":10.255,"n":-0.7,"v":-1.6},{"e":10.285,"n":-0.7,"v":-0.6},
{"e":9.865,"n":-0.75,"v":-0.5},{"e":9.895,"n":-0.75,"v":-1.4},{"e":9.925,"n":-0.75,"v":-3.2},{"e":9.955,"n":-0.75,"v":-6.5},{"e":9.985,"n":-0.75,"v":-10.2},{"e":10.015,"n":-0.75,"v":-13.8},{"e":10.045,"n":-0.75,"v":-15.2},{"e":10.075,"n":-0.75,"v":-15.7},{"e":10.105,"n":-0.75,"v":-15.2},{"e":10.135,"n":-0.75,"v":-13.8},{"e":10.165,"n":-0.75,"v":-10.2},{"e":10.195,"n":-0.75,"v":-6.5},{"e":10.225,"n":-0.75,"v":-3.2},{"e":10.255,"n":-0.75,"v":-1.4},{"e":10.285,"n":-0.75,"v":-0.5},
{"e":9.865,"n":-0.8,"v":-0.4},{"e":9.895,"n":-0.8,"v":-1.1},{"e":9.925,"n":-0.8,"v":-2.6},{"e":9.955,"n":-0.8,"v":-5.8},{"e":9.985,"n":-0.8,"v":-9.6},{"e":10.015,"n":-0.8,"v":-13.4},{"e":10.045,"n":-0.8,"v":-14.8},{"e":10.075,"n":-0.8,"v":-15.2},{"e":10.105,"n":-0.8,"v":-14.8},{"e":10.135,"n":-0.8,"v":-13.4},{"e":10.165,"n":-0.8,"v":-9.6},{"e":10.195,"n":-0.8,"v":-5.8},{"e":10.225,"n":-0.8,"v":-2.6},{"e":10.255,"n":-0.8,"v":-1.1},{"e":10.285,"n":-0.8,"v":-0.4},
{"e":9.865,"n":-0.85,"v":-0.2},{"e":9.895,"n":-0.85,"v":-0.8},{"e":9.925,"n":-0.85,"v":-2.2},{"e":9.955,"n":-0.85,"v":-5.0},{"e":9.985,"n":-0.85,"v":-9.0},{"e":10.015,"n":-0.85,"v":-12.8},{"e":10.045,"n":-0.85,"v":-14.1},{"e":10.075,"n":-0.85,"v":-14.5},{"e":10.105,"n":-0.85,"v":-14.1},{"e":10.135,"n":-0.85,"v":-12.8},{"e":10.165,"n":-0.85,"v":-9.0},{"e":10.195,"n":-0.85,"v":-5.0},{"e":10.225,"n":-0.85,"v":-2.2},{"e":10.255,"n":-0.85,"v":-0.8},{"e":10.285,"n":-0.85,"v":-0.2},
{"e":9.865,"n":-0.9,"v":-0.1},{"e":9.895,"n":-0.9,"v":-0.5},{"e":9.925,"n":-0.9,"v":-1.7},{"e":9.955,"n":-0.9,"v":-4.2},{"e":9.985,"n":-0.9,"v":-8.2},{"e":10.015,"n":-0.9,"v":-12.1},{"e":10.045,"n":-0.9,"v":-13.5},{"e":10.075,"n":-0.9,"v":-13.9},{"e":10.105,"n":-0.9,"v":-13.5},{"e":10.135,"n":-0.9,"v":-12.1},{"e":10.165,"n":-0.9,"v":-8.2},{"e":10.195,"n":-0.9,"v":-4.2},{"e":10.225,"n":-0.9,"v":-1.7},{"e":10.255,"n":-0.9,"v":-0.5},{"e":10.285,"n":-0.9,"v":-0.1},
{"e":6.475,"n":0.65,"v":-0.2},{"e":6.505,"n":0.65,"v":-0.4},{"e":6.535,"n":0.65,"v":-0.1},
{"e":6.475,"n":0.6,"v":-0.8},{"e":6.505,"n":0.6,"v":-1.0},{"e":6.535,"n":0.6,"v":-0.7},
{"e":6.445,"n":0.55,"v":-0.4},{"e":6.475,"n":0.55,"v":-1.7},{"e":6.505,"n":0.55,"v":-2.2},{"e":6.535,"n":0.55,"v":-1.5},{"e":6.565,"n":0.55,"v":-0.3},
{"e":6.445,"n":0.5,"v":-0.9},{"e":6.475,"n":0.5,"v":-2.4},{"e":6.505,"n":0.5,"v":-2.9},{"e":6.535,"n":0.5,"v":-2.3},{"e":6.565,"n":0.5,"v":-0.7},
{"e":6.415,"n":0.45,"v":-0.3},{"e":6.445,"n":0.45,"v":-1.9},{"e":6.475,"n":0.45,"v":-2.9},{"e":6.505,"n":0.45,"v":-3.3},{"e":6.535,"n":0.45,"v":-2.8},{"e":6.565,"n":0.45,"v":-1.6},{"e":6.595,"n":0.45,"v":-0.2},
{"e":6.415,"n":0.4,"v":-0.6},{"e":6.445,"n":0.4,"v":-2.3},{"e":6.475,"n":0.4,"v":-3.2},{"e":6.505,"n":0.4,"v":-3.7},{"e":6.535,"n":0.4,"v":-3.2},{"e":6.565,"n":0.4,"v":-2.0},{"e":6.595,"n":0.4,"v":-0.5},
{"e":6.415,"n":0.35,"v":-0.8},{"e":6.445,"n":0.35,"v":-2.6},{"e":6.475,"n":0.35,"v":-3.6},{"e":6.505,"n":0.35,"v":-4.0},{"e":6.535,"n":0.35,"v":-3.6},{"e":6.565,"n":0.35,"v":-2.4},{"e":6.595,"n":0.35,"v":-0.7},
{"e":6.385,"n":0.3,"v":-0.2},{"e":6.415,"n":0.3,"v":-1.0},{"e":6.445,"n":0.3,"v":-2.9},{"e":6.475,"n":0.3,"v":-3.8},{"e":6.505,"n":0.3,"v":-4.2},{"e":6.535,"n":0.3,"v":-3.8},{"e":6.565,"n":0.3,"v":-2.7},{"e":6.595,"n":0.3,"v":-0.9},{"e":6.625,"n":0.3,"v":-0.2},
{"e":6.385,"n":0.25,"v":-0.2},{"e":6.415,"n":0.25,"v":-1.1},{"e":6.445,"n":0.25,"v":-2.9},{"e":6.475,"n":0.25,"v":-3.7},{"e":6.505,"n":0.25,"v":-4.1},{"e":6.535,"n":0.25,"v":-3.7},{"e":6.565,"n":0.25,"v":-2.8},{"e":6.595,"n":0.25,"v":-1.0},{"e":6.625,"n":0.25,"v":-0.2},
{"e":6.385,"n":0.2,"v":-0.3},{"e":6.415,"n":0.2,"v":-1.1},{"e":6.445,"n":0.2,"v":-2.8},{"e":6.475,"n":0.2,"v":-3.4},{"e":6.505,"n":0.2,"v":-3.7},{"e":6.535,"n":0.2,"v":-3.4},{"e":6.565,"n":0.2,"v":-2.7},{"e":6.595,"n":0.2,"v":-1.0},{"e":6.625,"n":0.2,"v":-0.3},
{"e":6.385,"n":0.15,"v":-0.3},{"e":6.415,"n":0.15,"v":-1.0},{"e":6.445,"n":0.15,"v":-2.3},{"e":6.475,"n":0.15,"v":-2.8},{"e":6.505,"n":0.15,"v":-3.0},{"e":6.535,"n":0.15,"v":-2.7},{"e":6.565,"n":0.15,"v":-2.1},{"e":6.595,"n":0.15,"v":-0.8},{"e":6.625,"n":0.15,"v":-0.3},
{"e":6.385,"n":0.1,"v":-0.2},{"e":6.415,"n":0.1,"v":-0.7},{"e":6.445,"n":0.1,"v":-1.3},{"e":6.475,"n":0.1,"v":-1.8},{"e":6.505,"n":0.1,"v":-2.0},{"e":6.535,"n":0.1,"v":-1.8},{"e":6.565,"n":0.1,"v":-1.2},{"e":6.595,"n":0.1,"v":-0.6},{"e":6.625,"n":0.1,"v":-0.2},
{"e":6.415,"n":0.05,"v":-0.3},{"e":6.445,"n":0.05,"v":-0.6},{"e":6.475,"n":0.05,"v":-0.8},{"e":6.505,"n":0.05,"v":-0.9},{"e":6.535,"n":0.05,"v":-0.8},{"e":6.565,"n":0.05,"v":-0.6},{"e":6.595,"n":0.05,"v":-0.3},
{"e":6.445,"n":0,"v":-0.2},{"e":6.475,"n":0,"v":-0.3},{"e":6.505,"n":0,"v":-0.3},{"e":6.535,"n":0,"v":-0.3},{"e":6.565,"n":0,"v":-0.2},
{"e":7.315,"n":0.7,"v":-0.3},
{"e":7.285,"n":0.65,"v":-0.5},{"e":7.315,"n":0.65,"v":-1.0},{"e":7.345,"n":0.65,"v":-0.4},
{"e":7.255,"n":0.6,"v":-0.3},{"e":7.285,"n":0.6,"v":-1.7},{"e":7.315,"n":0.6,"v":-2.3},{"e":7.345,"n":0.6,"v":-1.5},{"e":7.375,"n":0.6,"v":-0.3},
{"e":7.255,"n":0.55,"v":-1.0},{"e":7.285,"n":0.55,"v":-2.4},{"e":7.315,"n":0.55,"v":-3.0},{"e":7.345,"n":0.55,"v":-2.5},{"e":7.375,"n":0.55,"v":-1.2},{"e":7.405,"n":0.55,"v":-0.3},
{"e":7.225,"n":0.5,"v":-0.4},{"e":7.255,"n":0.5,"v":-1.9},{"e":7.285,"n":0.5,"v":-2.9},{"e":7.315,"n":0.5,"v":-3.5},{"e":7.345,"n":0.5,"v":-3.0},{"e":7.375,"n":0.5,"v":-2.3},{"e":7.405,"n":0.5,"v":-0.7},
{"e":7.225,"n":0.45,"v":-0.9},{"e":7.255,"n":0.45,"v":-2.4},{"e":7.285,"n":0.45,"v":-3.4},{"e":7.315,"n":0.45,"v":-4.1},{"e":7.345,"n":0.45,"v":-3.5},{"e":7.375,"n":0.45,"v":-2.8},{"e":7.405,"n":0.45,"v":-1.5},{"e":7.435,"n":0.45,"v":-0.3},
{"e":7.195,"n":0.4,"v":-0.3},{"e":7.225,"n":0.4,"v":-1.8},{"e":7.255,"n":0.4,"v":-2.9},{"e":7.285,"n":0.4,"v":-4.0},{"e":7.315,"n":0.4,"v":-4.7},{"e":7.345,"n":0.4,"v":-4.1},{"e":7.375,"n":0.4,"v":-3.2},{"e":7.405,"n":0.4,"v":-2.2},{"e":7.435,"n":0.4,"v":-0.5},
{"e":7.195,"n":0.35,"v":-0.6},{"e":7.225,"n":0.35,"v":-2.2},{"e":7.255,"n":0.35,"v":-3.2},{"e":7.285,"n":0.35,"v":-4.3},{"e":7.315,"n":0.35,"v":-4.9},{"e":7.345,"n":0.35,"v":-4.3},{"e":7.375,"n":0.35,"v":-3.4},{"e":7.405,"n":0.35,"v":-2.6},{"e":7.435,"n":0.35,"v":-0.8},
{"e":7.165,"n":0.3,"v":-0.2},{"e":7.195,"n":0.3,"v":-0.8},{"e":7.225,"n":0.3,"v":-2.6},{"e":7.255,"n":0.3,"v":-3.3},{"e":7.285,"n":0.3,"v":-4.3},{"e":7.315,"n":0.3,"v":-4.8},{"e":7.345,"n":0.3,"v":-4.3},{"e":7.375,"n":0.3,"v":-3.5},{"e":7.405,"n":0.3,"v":-2.9},{"e":7.435,"n":0.3,"v":-1.1},{"e":7.465,"n":0.3,"v":-0.3},
{"e":7.165,"n":0.25,"v":-0.3},{"e":7.195,"n":0.25,"v":-1.0},{"e":7.225,"n":0.25,"v":-2.8},{"e":7.255,"n":0.25,"v":-3.4},{"e":7.285,"n":0.25,"v":-4.1},{"e":7.315,"n":0.25,"v":-4.5},{"e":7.345,"n":0.25,"v":-4.1},{"e":7.375,"n":0.25,"v":-3.5},{"e":7.405,"n":0.25,"v":-3.0},{"e":7.435,"n":0.25,"v":-1.3},{"e":7.465,"n":0.25,"v":-0.4},
{"e":7.165,"n":0.2,"v":-0.4},{"e":7.195,"n":0.2,"v":-1.1},{"e":7.225,"n":0.2,"v":-2.8},{"e":7.255,"n":0.2,"v":-3.3},{"e":7.285,"n":0.2,"v":-3.9},{"e":7.315,"n":0.2,"v":-4.2},{"e":7.345,"n":0.2,"v":-3.9},{"e":7.375,"n":0.2,"v":-3.4},{"e":7.405,"n":0.2,"v":-2.9},{"e":7.435,"n":0.2,"v":-1.3},{"e":7.465,"n":0.2,"v":-0.5},
{"e":7.135,"n":0.15,"v":-0.2},{"e":7.165,"n":0.15,"v":-0.5},{"e":7.195,"n":0.15,"v":-1.1},{"e":7.225,"n":0.15,"v":-2.5},{"e":7.255,"n":0.15,"v":-3.0},{"e":7.285,"n":0.15,"v":-3.4},{"e":7.315,"n":0.15,"v":-3.7},{"e":7.345,"n":0.15,"v":-3.4},{"e":7.375,"n":0.15,"v":-3.0},{"e":7.405,"n":0.15,"v":-2.6},{"e":7.435,"n":0.15,"v":-1.2},{"e":7.465,"n":0.15,"v":-0.6},{"e":7.495,"n":0.15,"v":-0.2},
{"e":7.135,"n":0.1,"v":-0.2},{"e":7.165,"n":0.1,"v":-0.4},{"e":7.195,"n":0.1,"v":-0.9},{"e":7.225,"n":0.1,"v":-1.5},{"e":7.255,"n":0.1,"v":-2.0},{"e":7.285,"n":0.1,"v":-2.4},{"e":7.315,"n":0.1,"v":-2.5},{"e":7.345,"n":0.1,"v":-2.4},{"e":7.375,"n":0.1,"v":-2.1},{"e":7.405,"n":0.1,"v":-1.5},{"e":7.435,"n":0.1,"v":-0.9},{"e":7.465,"n":0.1,"v":-0.5},{"e":7.495,"n":0.1,"v":-0.2},
{"e":7.165,"n":0.05,"v":-0.2},{"e":7.195,"n":0.05,"v":-0.4},{"e":7.225,"n":0.05,"v":-0.7},{"e":7.255,"n":0.05,"v":-1.0},{"e":7.285,"n":0.05,"v":-1.1},{"e":7.315,"n":0.05,"v":-1.2},{"e":7.345,"n":0.05,"v":-1.2},{"e":7.375,"n":0.05,"v":-1.0},{"e":7.405,"n":0.05,"v":-0.8},{"e":7.435,"n":0.05,"v":-0.5},{"e":7.465,"n":0.05,"v":-0.3},
{"e":7.255,"n":0,"v":-0.3},{"e":7.285,"n":0,"v":-0.4},{"e":7.315,"n":0,"v":-0.4},{"e":7.345,"n":0,"v":-0.4},{"e":7.375,"n":0,"v":-0.3},{"e":7.405,"n":0,"v":-0.2}
],
"contours":[
{"g":"a3","l":"solid","o":0,"e":10.060,"n":-0.229},{"g":"a3","l":"solid","o":1,"e":10.089,"n":-0.236},{"g":"a3","l":"solid","o":2,"e":10.105,"n":-0.255},{"g":"a3","l":"solid","o":3,"e":10.152,"n":-0.300},{"g":"a3","l":"solid","o":4,"e":10.166,"n":-0.344},{"g":"a3","l":"solid","o":5,"e":10.179,"n":-0.415},{"g":"a3","l":"solid","o":6,"e":10.183,"n":-0.495},{"g":"a3","l":"solid","o":7,"e":10.182,"n":-0.584},{"g":"a3","l":"solid","o":8,"e":10.171,"n":-0.699},{"g":"a3","l":"solid","o":9,"e":10.160,"n":-0.797},{"g":"a3","l":"solid","o":10,"e":10.149,"n":-0.886},{"g":"a3","l":"solid","o":11,"e":10.116,"n":-0.966},{"g":"a3","l":"solid","o":12,"e":10.089,"n":-1.071},{"g":"a3","l":"solid","o":13,"e":10.062,"n":-1.077},{"g":"a3","l":"solid","o":14,"e":10.029,"n":-1.001},{"g":"a3","l":"solid","o":15,"e":9.996,"n":-0.926},{"g":"a3","l":"solid","o":16,"e":9.985,"n":-0.788},{"g":"a3","l":"solid","o":17,"e":9.974,"n":-0.610},{"g":"a3","l":"solid","o":18,"e":9.972,"n":-0.495},{"g":"a3","l":"solid","o":19,"e":9.978,"n":-0.389},{"g":"a3","l":"solid","o":20,"e":9.985,"n":-0.318},{"g":"a3","l":"solid","o":21,"e":9.996,"n":-0.273},{"g":"a3","l":"solid","o":22,"e":10.060,"n":-0.229},
{"g":"a2","l":"dashed","o":0,"e":10.062,"n":-0.104},{"g":"a2","l":"dashed","o":1,"e":10.095,"n":-0.107},{"g":"a2","l":"dashed","o":2,"e":10.160,"n":-0.131},{"g":"a2","l":"dashed","o":3,"e":10.182,"n":-0.158},{"g":"a2","l":"dashed","o":4,"e":10.198,"n":-0.211},{"g":"a2","l":"dashed","o":5,"e":10.213,"n":-0.300},{"g":"a2","l":"dashed","o":6,"e":10.217,"n":-0.389},{"g":"a2","l":"dashed","o":7,"e":10.215,"n":-0.495},{"g":"a2","l":"dashed","o":8,"e":10.209,"n":-0.584},{"g":"a2","l":"dashed","o":9,"e":10.201,"n":-0.726},{"g":"a2","l":"dashed","o":10,"e":10.187,"n":-0.850},{"g":"a2","l":"dashed","o":11,"e":10.160,"n":-1.028},{"g":"a2","l":"dashed","o":12,"e":10.116,"n":-1.135},{"g":"a2","l":"dashed","o":13,"e":10.089,"n":-1.201},{"g":"a2","l":"dashed","o":14,"e":10.060,"n":-1.201},{"g":"a2","l":"dashed","o":15,"e":10.029,"n":-1.126},{"g":"a2","l":"dashed","o":16,"e":9.998,"n":-1.081},{"g":"a2","l":"dashed","o":17,"e":9.980,"n":-1.028},{"g":"a2","l":"dashed","o":18,"e":9.969,"n":-0.921},{"g":"a2","l":"dashed","o":19,"e":9.952,"n":-0.788},{"g":"a2","l":"dashed","o":20,"e":9.939,"n":-0.610},{"g":"a2","l":"dashed","o":21,"e":9.925,"n":-0.495},{"g":"a2","l":"dashed","o":22,"e":9.917,"n":-0.371},{"g":"a2","l":"dashed","o":23,"e":9.925,"n":-0.291},{"g":"a2","l":"dashed","o":24,"e":9.942,"n":-0.220},{"g":"a2","l":"dashed","o":25,"e":9.969,"n":-0.144},{"g":"a2","l":"dashed","o":26,"e":9.994,"n":-0.118},{"g":"a2","l":"dashed","o":27,"e":10.062,"n":-0.104},
{"g":"a1","l":"dotted","o":0,"e":10.073,"n":-0.049},{"g":"a1","l":"dotted","o":1,"e":10.149,"n":-0.058},{"g":"a1","l":"dotted","o":2,"e":10.182,"n":-0.071},{"g":"a1","l":"dotted","o":3,"e":10.215,"n":-0.113},{"g":"a1","l":"dotted","o":4,"e":10.237,"n":-0.167},{"g":"a1","l":"dotted","o":5,"e":10.258,"n":-0.238},{"g":"a1","l":"dotted","o":6,"e":10.264,"n":-0.335},{"g":"a1","l":"dotted","o":7,"e":10.253,"n":-0.415},{"g":"a1","l":"dotted","o":8,"e":10.237,"n":-0.513},{"g":"a1","l":"dotted","o":9,"e":10.220,"n":-0.619},{"g":"a1","l":"dotted","o":10,"e":10.204,"n":-0.744},{"g":"a1","l":"dotted","o":11,"e":10.176,"n":-0.992},{"g":"a1","l":"dotted","o":12,"e":10.155,"n":-1.117},{"g":"a1","l":"dotted","o":13,"e":10.105,"n":-1.232},{"g":"a1","l":"dotted","o":14,"e":10.073,"n":-1.257},{"g":"a1","l":"dotted","o":15,"e":10.051,"n":-1.250},{"g":"a1","l":"dotted","o":16,"e":10.029,"n":-1.188},{"g":"a1","l":"dotted","o":17,"e":9.996,"n":-1.108},{"g":"a1","l":"dotted","o":18,"e":9.980,"n":-1.055},{"g":"a1","l":"dotted","o":19,"e":9.958,"n":-0.877},{"g":"a1","l":"dotted","o":20,"e":9.925,"n":-0.717},{"g":"a1","l":"dotted","o":21,"e":9.903,"n":-0.566},{"g":"a1","l":"dotted","o":22,"e":9.892,"n":-0.468},{"g":"a1","l":"dotted","o":23,"e":9.887,"n":-0.344},{"g":"a1","l":"dotted","o":24,"e":9.885,"n":-0.238},{"g":"a1","l":"dotted","o":25,"e":9.892,"n":-0.158},{"g":"a1","l":"dotted","o":26,"e":9.909,"n":-0.122},{"g":"a1","l":"dotted","o":27,"e":9.952,"n":-0.082},{"g":"a1","l":"dotted","o":28,"e":10.002,"n":-0.056},{"g":"a1","l":"dotted","o":29,"e":10.073,"n":-0.049},
{"g":"b1","l":"dotted","o":0,"e":10.690,"n":-0.106},{"g":"b1","l":"dotted","o":1,"e":10.723,"n":-0.109},{"g":"b1","l":"dotted","o":2,"e":10.750,"n":-0.127},{"g":"b1","l":"dotted","o":3,"e":10.788,"n":-0.142},{"g":"b1","l":"dotted","o":4,"e":10.816,"n":-0.184},{"g":"b1","l":"dotted","o":5,"e":10.827,"n":-0.238},{"g":"b1","l":"dotted","o":6,"e":10.829,"n":-0.318},{"g":"b1","l":"dotted","o":7,"e":10.829,"n":-0.389},{"g":"b1","l":"dotted","o":8,"e":10.821,"n":-0.477},{"g":"b1","l":"dotted","o":9,"e":10.810,"n":-0.566},{"g":"b1","l":"dotted","o":10,"e":10.788,"n":-0.628},{"g":"b1","l":"dotted","o":11,"e":10.750,"n":-0.673},{"g":"b1","l":"dotted","o":12,"e":10.728,"n":-0.726},{"g":"b1","l":"dotted","o":13,"e":10.679,"n":-0.784},{"g":"b1","l":"dotted","o":14,"e":10.630,"n":-0.810},{"g":"b1","l":"dotted","o":15,"e":10.586,"n":-0.770},{"g":"b1","l":"dotted","o":16,"e":10.543,"n":-0.726},{"g":"b1","l":"dotted","o":17,"e":10.521,"n":-0.655},{"g":"b1","l":"dotted","o":18,"e":10.493,"n":-0.557},{"g":"b1","l":"dotted","o":19,"e":10.466,"n":-0.495},{"g":"b1","l":"dotted","o":20,"e":10.446,"n":-0.424},{"g":"b1","l":"dotted","o":21,"e":10.433,"n":-0.344},{"g":"b1","l":"dotted","o":22,"e":10.433,"n":-0.246},{"g":"b1","l":"dotted","o":23,"e":10.455,"n":-0.184},{"g":"b1","l":"dotted","o":24,"e":10.493,"n":-0.158},{"g":"b1","l":"dotted","o":25,"e":10.548,"n":-0.128},{"g":"b1","l":"dotted","o":26,"e":10.619,"n":-0.113},{"g":"b1","l":"dotted","o":27,"e":10.690,"n":-0.106},
{"g":"b2","l":"dashed","o":0,"e":10.668,"n":-0.269},{"g":"b2","l":"dashed","o":1,"e":10.701,"n":-0.269},{"g":"b2","l":"dashed","o":2,"e":10.723,"n":-0.286},{"g":"b2","l":"dashed","o":3,"e":10.734,"n":-0.318},{"g":"b2","l":"dashed","o":4,"e":10.745,"n":-0.389},{"g":"b2","l":"dashed","o":5,"e":10.742,"n":-0.477},{"g":"b2","l":"dashed","o":6,"e":10.728,"n":-0.557},{"g":"b2","l":"dashed","o":7,"e":10.701,"n":-0.606},{"g":"b2","l":"dashed","o":8,"e":10.635,"n":-0.643},{"g":"b2","l":"dashed","o":9,"e":10.608,"n":-0.606},{"g":"b2","l":"dashed","o":10,"e":10.581,"n":-0.540},{"g":"b2","l":"dashed","o":11,"e":10.559,"n":-0.468},{"g":"b2","l":"dashed","o":12,"e":10.559,"n":-0.406},{"g":"b2","l":"dashed","o":13,"e":10.581,"n":-0.344},{"g":"b2","l":"dashed","o":14,"e":10.619,"n":-0.286},{"g":"b2","l":"dashed","o":15,"e":10.668,"n":-0.269},
{"g":"c1","l":"dotted","o":0,"e":6.150,"n":0.390},{"g":"c1","l":"dotted","o":1,"e":6.166,"n":0.322},{"g":"c1","l":"dotted","o":2,"e":6.173,"n":0.270},{"g":"c1","l":"dotted","o":3,"e":6.172,"n":0.218},{"g":"c1","l":"dotted","o":4,"e":6.164,"n":0.170},{"g":"c1","l":"dotted","o":5,"e":6.143,"n":0.148},{"g":"c1","l":"dotted","o":6,"e":6.116,"n":0.159},{"g":"c1","l":"dotted","o":7,"e":6.104,"n":0.203},{"g":"c1","l":"dotted","o":8,"e":6.100,"n":0.255},{"g":"c1","l":"dotted","o":9,"e":6.105,"n":0.307},{"g":"c1","l":"dotted","o":10,"e":6.116,"n":0.359},{"g":"c1","l":"dotted","o":11,"e":6.122,"n":0.381},{"g":"c1","l":"dotted","o":12,"e":6.150,"n":0.390},
{"g":"d1","l":"dotted","o":0,"e":6.507,"n":0.572},{"g":"d1","l":"dotted","o":1,"e":6.521,"n":0.521},{"g":"d1","l":"dotted","o":2,"e":6.532,"n":0.462},{"g":"d1","l":"dotted","o":3,"e":6.547,"n":0.388},{"g":"d1","l":"dotted","o":4,"e":6.559,"n":0.314},{"g":"d1","l":"dotted","o":5,"e":6.567,"n":0.240},{"g":"d1","l":"dotted","o":6,"e":6.561,"n":0.192},{"g":"d1","l":"dotted","o":7,"e":6.540,"n":0.144},{"g":"d1","l":"dotted","o":8,"e":6.509,"n":0.106},{"g":"d1","l":"dotted","o":9,"e":6.474,"n":0.121},{"g":"d1","l":"dotted","o":10,"e":6.447,"n":0.141},{"g":"d1","l":"dotted","o":11,"e":6.439,"n":0.211},{"g":"d1","l":"dotted","o":12,"e":6.442,"n":0.285},{"g":"d1","l":"dotted","o":13,"e":6.445,"n":0.381},{"g":"d1","l":"dotted","o":14,"e":6.449,"n":0.455},{"g":"d1","l":"dotted","o":15,"e":6.468,"n":0.503},{"g":"d1","l":"dotted","o":16,"e":6.492,"n":0.549},{"g":"d1","l":"dotted","o":17,"e":6.507,"n":0.572},
{"g":"f1","l":"dotted","o":0,"e":7.311,"n":0.595},{"g":"f1","l":"dotted","o":1,"e":7.340,"n":0.566},{"g":"f1","l":"dotted","o":2,"e":7.366,"n":0.521},{"g":"f1","l":"dotted","o":3,"e":7.387,"n":0.496},{"g":"f1","l":"dotted","o":4,"e":7.396,"n":0.425},{"g":"f1","l":"dotted","o":5,"e":7.408,"n":0.373},{"g":"f1","l":"dotted","o":6,"e":7.416,"n":0.307},{"g":"f1","l":"dotted","o":7,"e":7.425,"n":0.233},{"g":"f1","l":"dotted","o":8,"e":7.408,"n":0.159},{"g":"f1","l":"dotted","o":9,"e":7.378,"n":0.116},{"g":"f1","l":"dotted","o":10,"e":7.340,"n":0.103},{"g":"f1","l":"dotted","o":11,"e":7.311,"n":0.098},{"g":"f1","l":"dotted","o":12,"e":7.262,"n":0.116},{"g":"f1","l":"dotted","o":13,"e":7.233,"n":0.159},{"g":"f1","l":"dotted","o":14,"e":7.215,"n":0.233},{"g":"f1","l":"dotted","o":15,"e":7.221,"n":0.285},{"g":"f1","l":"dotted","o":16,"e":7.233,"n":0.359},{"g":"f1","l":"dotted","o":17,"e":7.250,"n":0.425},{"g":"f1","l":"dotted","o":18,"e":7.262,"n":0.477},{"g":"f1","l":"dotted","o":19,"e":7.276,"n":0.547},{"g":"f1","l":"dotted","o":20,"e":7.288,"n":0.573},{"g":"f1","l":"dotted","o":21,"e":7.311,"n":0.595},
{"g":"f2","l":"dashed","o":0,"e":7.323,"n":0.412},{"g":"f2","l":"dashed","o":1,"e":7.335,"n":0.359},{"g":"f2","l":"dashed","o":2,"e":7.332,"n":0.292},{"g":"f2","l":"dashed","o":3,"e":7.317,"n":0.281},{"g":"f2","l":"dashed","o":4,"e":7.292,"n":0.286},{"g":"f2","l":"dashed","o":5,"e":7.288,"n":0.344},{"g":"f2","l":"dashed","o":6,"e":7.294,"n":0.396},{"g":"f2","l":"dashed","o":7,"e":7.323,"n":0.412}
]
},
"hconcat":[
{
"width":1860,"height":1359,
"title":{"text":"XMM-Newton 191 ks","offset":-18},
"encoding":{
"x":{"field":"e","type":"quantitative","scale":{"domain":[6,12.03],"nice":false,"zero":false},"axis":null},
"y":{"field":"n","type":"quantitative","scale":{"domain":[-1.5,1.516],"nice":false,"zero":false},"axis":null}
},
"layer":[
{"data":{"name":"coarse"},
"mark":{"type":"rect","width":19,"height":23,"clip":true},
"encoding":{
"x":{"field":"e","type":"quantitative","scale":{"domain":[6,12.03],"nice":false,"zero":false},
"axis":{"orient":"bottom","zindex":1,"title":"Energy (keV)","titlePadding":3,"labelPadding":30,"values":[6,6.2,6.4,6.6,6.8,7,7.2,7.4,7.6,7.8,8,8.2,8.4,8.6,8.8,9,9.2,9.4,9.6,9.8,10,10.2,10.4,10.6,10.8,11,11.2,11.4,11.6,11.8,12],
"labelExpr":"datum.value==floor(datum.value)?''+datum.value:''","tickSize":{"condition":{"test":"datum.value==floor(datum.value)","value":-21},"value":-13}}},
"y":{"field":"n","type":"quantitative","scale":{"domain":[-1.5,1.516],"nice":false,"zero":false},
"axis":{"orient":"left","zindex":1,"title":"Normalization (x10⁻⁴)","titleY":688,"titlePadding":18,"labelPadding":25,"values":[-1.5,-1.35,-1.2,-1.05,-0.9,-0.75,-0.6,-0.45,-0.3,-0.15,0,0.15,0.3,0.45,0.6,0.75,0.9,1.05,1.2,1.35,1.5],
"labelExpr":"(abs(datum.value)==0.75||abs(datum.value)==1.5||datum.value==0)?''+datum.value:''","tickSize":{"condition":{"test":"abs(datum.value)==0.75||abs(datum.value)==1.5||datum.value==0","value":-21},"value":-13}}},
"color":{"field":"v","type":"quantitative","scale":{"domain":[0,-1.99375,-3.9875,-5.98125,-7.975,-9.96875,-11.9625,-13.95625,-15.95],"range":["#ffffff","#f0f0f0","#d9d9d9","#bdbdbd","#969696","#737373","#525252","#252525","#000000"]},"legend":null}
}},
{"data":{"name":"fine"},
"mark":{"type":"rect","width":9.75,"height":23,"clip":true},
"encoding":{"color":{"field":"v","type":"quantitative","scale":{"domain":[0,-1.99375,-3.9875,-5.98125,-7.975,-9.96875,-11.9625,-13.95625,-15.95],"range":["#ffffff","#f0f0f0","#d9d9d9","#bdbdbd","#969696","#737373","#525252","#252525","#000000"]},"legend":null}}},
{"data":{"name":"steep"},
"mark":{"type":"rect","width":9.75,"height":12,"clip":true},
"encoding":{"color":{"field":"v","type":"quantitative","scale":{"domain":[0,-1.99375,-3.9875,-5.98125,-7.975,-9.96875,-11.9625,-13.95625,-15.95],"range":["#ffffff","#f0f0f0","#d9d9d9","#bdbdbd","#969696","#737373","#525252","#252525","#000000"]},"legend":null}}},
{"data":{"name":"contours"},
"mark":{"type":"line","color":"#ff1493","strokeWidth":4,"clip":true},
"encoding":{
"x":{"field":"e","type":"quantitative","scale":{"domain":[6,12.03],"nice":false,"zero":false},
"axis":{"orient":"top","zindex":1,"title":null,"labels":false,"values":[6,6.2,6.4,6.6,6.8,7,7.2,7.4,7.6,7.8,8,8.2,8.4,8.6,8.8,9,9.2,9.4,9.6,9.8,10,10.2,10.4,10.6,10.8,11,11.2,11.4,11.6,11.8,12],
"tickSize":{"condition":{"test":"datum.value==floor(datum.value)","value":-21},"value":-13}}},
"y":{"field":"n","type":"quantitative","scale":{"domain":[-1.5,1.516],"nice":false,"zero":false},
"axis":{"orient":"right","zindex":1,"title":null,"labels":false,"values":[-1.5,-1.35,-1.2,-1.05,-0.9,-0.75,-0.6,-0.45,-0.3,-0.15,0,0.15,0.3,0.45,0.6,0.75,0.9,1.05,1.2,1.35,1.5],
"tickSize":{"condition":{"test":"abs(datum.value)==0.75||abs(datum.value)==1.5||datum.value==0","value":-21},"value":-13}}},
"detail":{"field":"g"},
"order":{"field":"o","type":"quantitative"},
"strokeDash":{"field":"l","type":"nominal","scale":{"domain":["solid","dashed","dotted"],"range":[[1,0],[14.8,6.4],[4,6.6]]},"legend":null}
}},
{"data":{"values":[{"e":10.055,"n":0.297,"n2":0.06}]},
"mark":{"type":"rule","color":"#ff1493","strokeWidth":11},
"encoding":{"y2":{"field":"n2"}}},
{"data":{"values":[{"e":10.055,"n":0.04}]},
"mark":{"type":"point","shape":"M-1,-1.16L1,-1.16L0,1.16Z","size":961,"filled":true,"color":"#ff1493","opacity":1,"strokeWidth":0},
"encoding":{}},
{"data":{"values":[{"e":10.3,"n":0.368,"t":"2.43"}]},
"mark":{"type":"text","align":"right","baseline":"alphabetic","font":"DejaVu Sans","fontSize":56,"color":"#ff1493"},
"encoding":{"text":{"field":"t"}}},
{"data":{"values":[{"e":10.3,"n":0.368,"t":"σ"}]},
"mark":{"type":"text","align":"left","baseline":"alphabetic","font":"DejaVu Sans","fontStyle":"italic","fontSize":56,"color":"#ff1493"},
"encoding":{"text":{"field":"t"}}}
],
"resolve":{"axis":{"x":"independent","y":"independent"}}
},
{
"width":72,"height":1359,
"data":{"values":[{"a":0,"b":1,"lo":0,"hi":-15.95}]},
"mark":{"type":"rect","stroke":"black","strokeWidth":4,"fill":{"gradient":"linear","x1":0,"y1":1,"x2":0,"y2":0,"stops":[{"offset":0,"color":"#ffffff"},{"offset":0.125,"color":"#f0f0f0"},{"offset":0.25,"color":"#d9d9d9"},{"offset":0.375,"color":"#bdbdbd"},{"offset":0.5,"color":"#969696"},{"offset":0.625,"color":"#737373"},{"offset":0.75,"color":"#525252"},{"offset":0.875,"color":"#252525"},{"offset":1,"color":"#000000"}]}},
"encoding":{
"x":{"field":"a","type":"quantitative","scale":{"domain":[0,1],"nice":false,"zero":false},"axis":null},
"x2":{"field":"b"},
"y":{"field":"lo","type":"quantitative","scale":{"domain":[0.307,-16.37],"nice":false,"zero":false},
"axis":{"orient":"right","domain":false,"title":"Δχ²","titleFontSize":58,"titleAngle":270,"titleY":651,"titlePadding":60,"tickSize":13,"labelPadding":7,"values":[0,-2,-4,-6,-8,-10,-12,-14],"labelExpr":"''+datum.value"}},
"y2":{"field":"hi"}
}
}
]
}
